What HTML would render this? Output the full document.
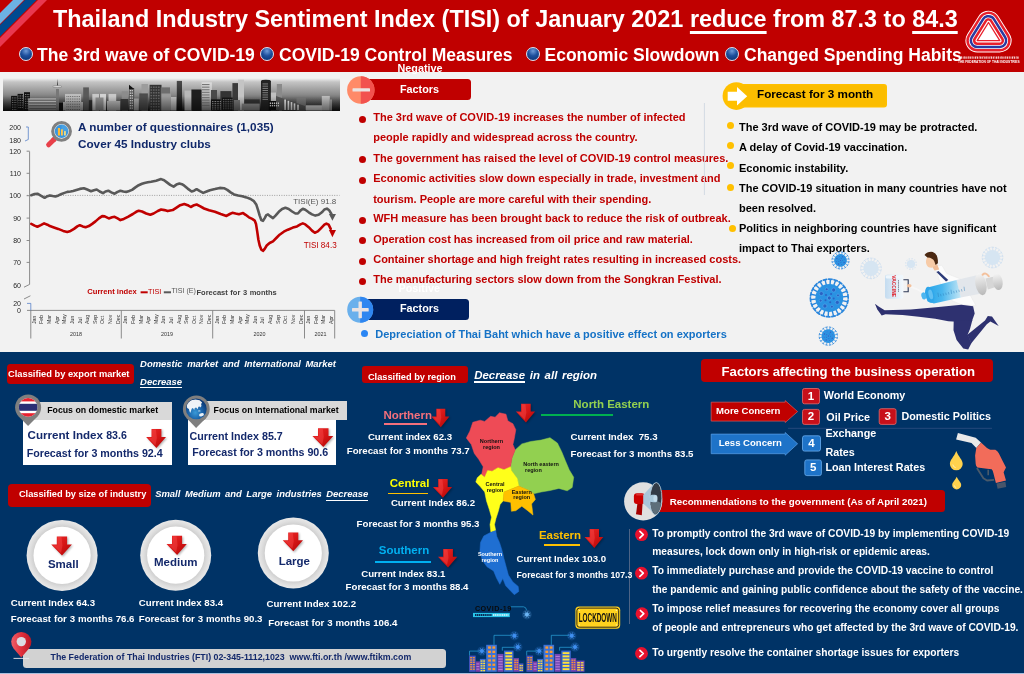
<!DOCTYPE html>
<html>
<head>
<meta charset="utf-8">
<title>TISI</title>
<style>
*{box-sizing:border-box;margin:0;padding:0}
html,body{width:1024px;height:674px;overflow:hidden;background:#f2f2f2}
body{font-family:"Liberation Sans",sans-serif;position:relative}
.t{position:absolute;white-space:nowrap;line-height:1;font-weight:bold}
.r{font-weight:normal}
.i{font-style:italic}
.w{color:#fff}
.abs{position:absolute}
svg{position:absolute;left:0;top:0;overflow:visible}
.u{border-bottom:2px solid #fff}
.dot{position:absolute;border-radius:50%}
.bd{position:absolute;width:14px;height:14px;border-radius:50%;background:radial-gradient(circle at 50% 25%,#6f9bd8 0%,#1d4f9c 45%,#0a2f6e 100%);border:1px solid #d9e2f0}
.ml{position:absolute;font-size:5.2px;line-height:1;color:#333;font-weight:normal;transform:rotate(-90deg);transform-origin:0 0;white-space:nowrap}
.yl{position:absolute;font-size:7px;line-height:1;color:#262626;font-weight:normal;text-align:right;width:16px}
</style>
</head>
<body>
<div id="wrap" style="position:absolute;left:0;top:0;width:1024px;height:674px;overflow:hidden;will-change:transform">
<!-- ===== backgrounds ===== -->
<div class="abs" style="left:0;top:0;width:1024px;height:72px;background:#c00000"></div>
<div class="abs" style="left:0;top:352px;width:1024px;height:322px;background:#003366"></div>
<!-- ===== header ===== -->
<svg width="1024" height="72" viewBox="0 0 1024 72">
  <polygon points="13,0 24,0 0,24 0,13" fill="#6cb2e4"/>
  <polygon points="25,0 36.5,0 0,36.5 0,25" fill="#004a90"/>
  <polygon points="38,0 47,0 0,47 0,38" fill="#e8384f"/>
</svg>
<div class="t w" id="title" style="left:53px;top:7.8px;font-size:23.4px">Thailand Industry Sentiment Index (TISI) of January 2021 <span style="text-decoration:underline;text-decoration-thickness:3px;text-underline-offset:3.5px">reduce</span> from 87.3 to <span style="text-decoration:underline;text-decoration-thickness:3px;text-underline-offset:3.5px">84.3</span></div>
<div class="bd" style="left:19px;top:47.4px"></div>
<div class="t w" style="left:37px;top:46.9px;font-size:17.5px">The 3rd wave of COVID-19</div>
<div class="bd" style="left:260px;top:47.4px"></div>
<div class="t w" style="left:279px;top:46.9px;font-size:17.5px">COVID-19 Control Measures</div>
<div class="bd" style="left:525.5px;top:47.4px"></div>
<div class="t w" style="left:544.5px;top:46.9px;font-size:17.5px">Economic Slowdown</div>
<div class="bd" style="left:725px;top:47.4px"></div>
<div class="t w" style="left:744px;top:46.9px;font-size:17.5px">Changed Spending Habits</div>
<!-- ===== chart ===== -->
<svg width="1024" height="674" viewBox="0 0 1024 674">
<defs><linearGradient id="sky" x1="0" y1="0" x2="0" y2="1"><stop offset="0" stop-color="#f4f4f4"/><stop offset="0.12" stop-color="#c4c4c4"/><stop offset="0.5" stop-color="#8a8a8a"/><stop offset="0.85" stop-color="#3a3a3a"/><stop offset="1" stop-color="#111"/></linearGradient>
<linearGradient id="bd" x1="0" y1="0" x2="0" y2="1"><stop offset="0" stop-color="#4a4a4a"/><stop offset="1" stop-color="#0c0c0c"/></linearGradient>
<linearGradient id="bm" x1="0" y1="0" x2="0" y2="1"><stop offset="0" stop-color="#9a9a9a"/><stop offset="1" stop-color="#3c3c3c"/></linearGradient>
<linearGradient id="bl" x1="0" y1="0" x2="0" y2="1"><stop offset="0" stop-color="#dcdcdc"/><stop offset="1" stop-color="#8c8c8c"/></linearGradient></defs>
<rect x="3" y="78" width="337" height="33" fill="url(#sky)"/>
<rect x="11.1" y="95.9" width="6.0" height="14.7" fill="#111"/>
<rect x="17.6" y="93.9" width="5.4" height="16.7" fill="#111"/>
<rect x="24" y="92.2" width="6" height="18.4" fill="#111"/>
<rect x="28.2" y="98.5" width="28.2" height="12.1" fill="url(#bl)"/>
<rect x="56" y="89" width="3" height="21.6" fill="#777"/>
<rect x="59" y="102.8" width="5.6" height="7.8" fill="#111"/>
<rect x="65" y="93.9" width="16.2" height="16.7" fill="#bdbdbd"/>
<rect x="63" y="102" width="20" height="8.6" fill="#b0b0b0"/>
<rect x="83.2" y="87.4" width="5.7" height="23.2" fill="#5a5a5a"/>
<rect x="88.9" y="100.2" width="7.7" height="10.4" fill="#2e2e2e"/>
<rect x="92.3" y="93.9" width="6.7" height="16.7" fill="#c8c8c8"/>
<rect x="100" y="93.9" width="6" height="16.7" fill="#d2d2d2"/>
<rect x="95.5" y="97.5" width="8.0" height="13.1" fill="#8f8f8f"/>
<rect x="108.5" y="93.9" width="7.7" height="16.7" fill="#c8c8c8"/>
<rect x="107" y="101" width="13.5" height="9.6" fill="#b4b4b4"/>
<rect x="121.7" y="91.3" width="6.5" height="19.3" fill="#8c8c8c"/>
<rect x="120.5" y="99" width="7.7" height="11.6" fill="#3a3a3a"/>
<rect x="129" y="88" width="5.2" height="22.6" fill="#555"/>
<rect x="134" y="98.5" width="4.8" height="12.1" fill="#a8a8a8"/>
<rect x="141.5" y="84" width="6.4" height="26.6" fill="#9c9c9c"/>
<rect x="139.3" y="93.4" width="8.6" height="17.2" fill="#4c4c4c"/>
<rect x="149.6" y="84.8" width="11.9" height="25.8" fill="#333"/>
<rect x="160.7" y="87.4" width="9.3" height="23.2" fill="#6e6e6e"/>
<rect x="161.5" y="93.5" width="9.5" height="17.1" fill="#9a9a9a"/>
<rect x="171" y="97" width="5.5" height="13.6" fill="#bbb"/>
<rect x="176.8" y="80.9" width="5.2" height="29.7" fill="url(#bd)"/>
<rect x="184.5" y="90.5" width="7.7" height="20.1" fill="#b8b8b8"/>
<rect x="191.4" y="89.5" width="13.6" height="21.1" fill="#1e1e1e"/>
<rect x="201.6" y="82.3" width="10.3" height="28.3" fill="url(#bl)"/>
<rect x="211" y="90" width="6" height="20.6" fill="#4a4a4a"/>
<rect x="211" y="99.4" width="10.3" height="11.2" fill="#111"/>
<rect x="220.4" y="91.1" width="11.1" height="19.5" fill="#333"/>
<rect x="222" y="97.6" width="12" height="13.0" fill="#151515"/>
<rect x="232.4" y="83.1" width="5.6" height="27.5" fill="#3a3a3a"/>
<rect x="238" y="79.7" width="6" height="30.9" fill="#c4c4c4"/>
<rect x="234" y="100" width="6" height="10.6" fill="#777"/>
<rect x="244.5" y="99.4" width="15.2" height="11.2" fill="#333"/>
<rect x="241.8" y="103.6" width="17.9" height="7.0" fill="#8a8a8a"/>
<rect x="261" y="81" width="9.9" height="29.6" fill="#242424"/>
<rect x="270.9" y="92.5" width="5.1" height="18.1" fill="#c0c0c0"/>
<rect x="276.8" y="84" width="5.2" height="26.6" fill="#8a8a8a"/>
<rect x="268.8" y="101" width="10.2" height="9.6" fill="#0e0e0e"/>
<rect x="296.5" y="97.6" width="9.4" height="13.0" fill="#787878"/>
<rect x="305.9" y="105.3" width="16.1" height="5.3" fill="#cfcfcf"/>
<rect x="321.8" y="95.9" width="8.0" height="14.7" fill="#bcbcbc"/>
<rect x="329.8" y="99.4" width="2.2" height="11.2" fill="#999"/>
<polygon points="57.5,78.8 58.1,86 56.9,86" fill="#444"/><ellipse cx="57.3" cy="86.6" rx="4.6" ry="1" fill="#ddd" stroke="#555" stroke-width="0.4"/>
<polygon points="129,84.8 134.2,89 129,89" fill="#111"/>
<ellipse cx="265.9" cy="81.2" rx="4.9" ry="1.4" fill="#242424"/>
<polygon points="276,96 305,106 305,110.6 276,110.6" fill="#555"/>
<rect x="284.3" y="99.5" width="1.6" height="10.5" fill="#f4f4f4"/>
<rect x="287.6" y="100.8" width="1.6" height="9.2" fill="#f4f4f4"/>
<rect x="290.7" y="102.1" width="1.6" height="7.9" fill="#f4f4f4"/>
<rect x="293.7" y="103.4" width="1.6" height="6.6" fill="#f4f4f4"/>
<rect x="297.2" y="104.7" width="1.6" height="5.3" fill="#f4f4f4"/>
<rect x="28.2" y="99.5" width="27.8" height="1.3" fill="#666"/>
<rect x="28.2" y="102.3" width="27.8" height="1.3" fill="#666"/>
<rect x="28.2" y="105.1" width="27.8" height="1.3" fill="#666"/>
<rect x="28.2" y="107.9" width="27.8" height="1.3" fill="#666"/>
<rect x="202" y="84" width="7.5" height="1.1" fill="#777"/>
<rect x="202" y="86.6" width="7.5" height="1.1" fill="#777"/>
<rect x="202" y="89.2" width="7.5" height="1.1" fill="#777"/>
<rect x="202" y="91.8" width="7.5" height="1.1" fill="#777"/>
<rect x="202" y="94.4" width="7.5" height="1.1" fill="#777"/>
<rect x="202" y="97" width="7.5" height="1.1" fill="#777"/>
<rect x="202" y="99.6" width="7.5" height="1.1" fill="#777"/>
<rect x="202" y="102.2" width="7.5" height="1.1" fill="#777"/>
<rect x="202" y="104.8" width="7.5" height="1.1" fill="#777"/>
<rect x="12.0" y="97.5" width="0.9" height="0.9" fill="#999"/>
<rect x="13.7" y="97.5" width="0.9" height="0.9" fill="#999"/>
<rect x="15.4" y="97.5" width="0.9" height="0.9" fill="#999"/>
<rect x="12.0" y="99.8" width="0.9" height="0.9" fill="#999"/>
<rect x="13.7" y="99.8" width="0.9" height="0.9" fill="#999"/>
<rect x="15.4" y="99.8" width="0.9" height="0.9" fill="#999"/>
<rect x="12.0" y="102.1" width="0.9" height="0.9" fill="#999"/>
<rect x="13.7" y="102.1" width="0.9" height="0.9" fill="#999"/>
<rect x="15.4" y="102.1" width="0.9" height="0.9" fill="#999"/>
<rect x="12.0" y="104.4" width="0.9" height="0.9" fill="#999"/>
<rect x="13.7" y="104.4" width="0.9" height="0.9" fill="#999"/>
<rect x="15.4" y="104.4" width="0.9" height="0.9" fill="#999"/>
<rect x="12.0" y="106.7" width="0.9" height="0.9" fill="#999"/>
<rect x="13.7" y="106.7" width="0.9" height="0.9" fill="#999"/>
<rect x="15.4" y="106.7" width="0.9" height="0.9" fill="#999"/>
<rect x="12.0" y="109.0" width="0.9" height="0.9" fill="#999"/>
<rect x="13.7" y="109.0" width="0.9" height="0.9" fill="#999"/>
<rect x="15.4" y="109.0" width="0.9" height="0.9" fill="#999"/>
<rect x="18.5" y="95.5" width="0.9" height="0.9" fill="#999"/>
<rect x="20.2" y="95.5" width="0.9" height="0.9" fill="#999"/>
<rect x="21.9" y="95.5" width="0.9" height="0.9" fill="#999"/>
<rect x="18.5" y="97.8" width="0.9" height="0.9" fill="#999"/>
<rect x="20.2" y="97.8" width="0.9" height="0.9" fill="#999"/>
<rect x="21.9" y="97.8" width="0.9" height="0.9" fill="#999"/>
<rect x="18.5" y="100.1" width="0.9" height="0.9" fill="#999"/>
<rect x="20.2" y="100.1" width="0.9" height="0.9" fill="#999"/>
<rect x="21.9" y="100.1" width="0.9" height="0.9" fill="#999"/>
<rect x="18.5" y="102.4" width="0.9" height="0.9" fill="#999"/>
<rect x="20.2" y="102.4" width="0.9" height="0.9" fill="#999"/>
<rect x="21.9" y="102.4" width="0.9" height="0.9" fill="#999"/>
<rect x="18.5" y="104.7" width="0.9" height="0.9" fill="#999"/>
<rect x="20.2" y="104.7" width="0.9" height="0.9" fill="#999"/>
<rect x="21.9" y="104.7" width="0.9" height="0.9" fill="#999"/>
<rect x="18.5" y="107.0" width="0.9" height="0.9" fill="#999"/>
<rect x="20.2" y="107.0" width="0.9" height="0.9" fill="#999"/>
<rect x="21.9" y="107.0" width="0.9" height="0.9" fill="#999"/>
<rect x="25.0" y="94.0" width="0.9" height="0.9" fill="#999"/>
<rect x="26.7" y="94.0" width="0.9" height="0.9" fill="#999"/>
<rect x="28.4" y="94.0" width="0.9" height="0.9" fill="#999"/>
<rect x="25.0" y="96.3" width="0.9" height="0.9" fill="#999"/>
<rect x="26.7" y="96.3" width="0.9" height="0.9" fill="#999"/>
<rect x="28.4" y="96.3" width="0.9" height="0.9" fill="#999"/>
<rect x="25.0" y="98.6" width="0.9" height="0.9" fill="#999"/>
<rect x="26.7" y="98.6" width="0.9" height="0.9" fill="#999"/>
<rect x="28.4" y="98.6" width="0.9" height="0.9" fill="#999"/>
<rect x="25.0" y="100.9" width="0.9" height="0.9" fill="#999"/>
<rect x="26.7" y="100.9" width="0.9" height="0.9" fill="#999"/>
<rect x="28.4" y="100.9" width="0.9" height="0.9" fill="#999"/>
<rect x="25.0" y="103.2" width="0.9" height="0.9" fill="#999"/>
<rect x="26.7" y="103.2" width="0.9" height="0.9" fill="#999"/>
<rect x="28.4" y="103.2" width="0.9" height="0.9" fill="#999"/>
<rect x="25.0" y="105.5" width="0.9" height="0.9" fill="#999"/>
<rect x="26.7" y="105.5" width="0.9" height="0.9" fill="#999"/>
<rect x="28.4" y="105.5" width="0.9" height="0.9" fill="#999"/>
<rect x="25.0" y="107.8" width="0.9" height="0.9" fill="#999"/>
<rect x="26.7" y="107.8" width="0.9" height="0.9" fill="#999"/>
<rect x="28.4" y="107.8" width="0.9" height="0.9" fill="#999"/>
<rect x="212.0" y="101.0" width="0.8" height="0.8" fill="#ddd"/>
<rect x="213.6" y="101.0" width="0.8" height="0.8" fill="#ddd"/>
<rect x="215.2" y="101.0" width="0.8" height="0.8" fill="#ddd"/>
<rect x="216.8" y="101.0" width="0.8" height="0.8" fill="#ddd"/>
<rect x="218.4" y="101.0" width="0.8" height="0.8" fill="#ddd"/>
<rect x="220.0" y="101.0" width="0.8" height="0.8" fill="#ddd"/>
<rect x="212.0" y="102.9" width="0.8" height="0.8" fill="#ddd"/>
<rect x="213.6" y="102.9" width="0.8" height="0.8" fill="#ddd"/>
<rect x="215.2" y="102.9" width="0.8" height="0.8" fill="#ddd"/>
<rect x="216.8" y="102.9" width="0.8" height="0.8" fill="#ddd"/>
<rect x="218.4" y="102.9" width="0.8" height="0.8" fill="#ddd"/>
<rect x="220.0" y="102.9" width="0.8" height="0.8" fill="#ddd"/>
<rect x="212.0" y="104.8" width="0.8" height="0.8" fill="#ddd"/>
<rect x="213.6" y="104.8" width="0.8" height="0.8" fill="#ddd"/>
<rect x="215.2" y="104.8" width="0.8" height="0.8" fill="#ddd"/>
<rect x="216.8" y="104.8" width="0.8" height="0.8" fill="#ddd"/>
<rect x="218.4" y="104.8" width="0.8" height="0.8" fill="#ddd"/>
<rect x="220.0" y="104.8" width="0.8" height="0.8" fill="#ddd"/>
<rect x="212.0" y="106.7" width="0.8" height="0.8" fill="#ddd"/>
<rect x="213.6" y="106.7" width="0.8" height="0.8" fill="#ddd"/>
<rect x="215.2" y="106.7" width="0.8" height="0.8" fill="#ddd"/>
<rect x="216.8" y="106.7" width="0.8" height="0.8" fill="#ddd"/>
<rect x="218.4" y="106.7" width="0.8" height="0.8" fill="#ddd"/>
<rect x="220.0" y="106.7" width="0.8" height="0.8" fill="#ddd"/>
<rect x="212.0" y="108.6" width="0.8" height="0.8" fill="#ddd"/>
<rect x="213.6" y="108.6" width="0.8" height="0.8" fill="#ddd"/>
<rect x="215.2" y="108.6" width="0.8" height="0.8" fill="#ddd"/>
<rect x="216.8" y="108.6" width="0.8" height="0.8" fill="#ddd"/>
<rect x="218.4" y="108.6" width="0.8" height="0.8" fill="#ddd"/>
<rect x="220.0" y="108.6" width="0.8" height="0.8" fill="#ddd"/>
<rect x="223.0" y="99.0" width="1" height="0.7" fill="#999"/>
<rect x="224.7" y="99.0" width="1" height="0.7" fill="#999"/>
<rect x="226.4" y="99.0" width="1" height="0.7" fill="#999"/>
<rect x="228.1" y="99.0" width="1" height="0.7" fill="#999"/>
<rect x="229.8" y="99.0" width="1" height="0.7" fill="#999"/>
<rect x="231.5" y="99.0" width="1" height="0.7" fill="#999"/>
<rect x="223.0" y="100.9" width="1" height="0.7" fill="#999"/>
<rect x="224.7" y="100.9" width="1" height="0.7" fill="#999"/>
<rect x="226.4" y="100.9" width="1" height="0.7" fill="#999"/>
<rect x="228.1" y="100.9" width="1" height="0.7" fill="#999"/>
<rect x="229.8" y="100.9" width="1" height="0.7" fill="#999"/>
<rect x="231.5" y="100.9" width="1" height="0.7" fill="#999"/>
<rect x="223.0" y="102.8" width="1" height="0.7" fill="#999"/>
<rect x="224.7" y="102.8" width="1" height="0.7" fill="#999"/>
<rect x="226.4" y="102.8" width="1" height="0.7" fill="#999"/>
<rect x="228.1" y="102.8" width="1" height="0.7" fill="#999"/>
<rect x="229.8" y="102.8" width="1" height="0.7" fill="#999"/>
<rect x="231.5" y="102.8" width="1" height="0.7" fill="#999"/>
<rect x="223.0" y="104.7" width="1" height="0.7" fill="#999"/>
<rect x="224.7" y="104.7" width="1" height="0.7" fill="#999"/>
<rect x="226.4" y="104.7" width="1" height="0.7" fill="#999"/>
<rect x="228.1" y="104.7" width="1" height="0.7" fill="#999"/>
<rect x="229.8" y="104.7" width="1" height="0.7" fill="#999"/>
<rect x="231.5" y="104.7" width="1" height="0.7" fill="#999"/>
<rect x="223.0" y="106.6" width="1" height="0.7" fill="#999"/>
<rect x="224.7" y="106.6" width="1" height="0.7" fill="#999"/>
<rect x="226.4" y="106.6" width="1" height="0.7" fill="#999"/>
<rect x="228.1" y="106.6" width="1" height="0.7" fill="#999"/>
<rect x="229.8" y="106.6" width="1" height="0.7" fill="#999"/>
<rect x="231.5" y="106.6" width="1" height="0.7" fill="#999"/>
<rect x="223.0" y="108.5" width="1" height="0.7" fill="#999"/>
<rect x="224.7" y="108.5" width="1" height="0.7" fill="#999"/>
<rect x="226.4" y="108.5" width="1" height="0.7" fill="#999"/>
<rect x="228.1" y="108.5" width="1" height="0.7" fill="#999"/>
<rect x="229.8" y="108.5" width="1" height="0.7" fill="#999"/>
<rect x="231.5" y="108.5" width="1" height="0.7" fill="#999"/>
<rect x="269.8" y="102.5" width="1.2" height="1.5" fill="#eee"/>
<rect x="271.8" y="102.5" width="1.2" height="1.5" fill="#eee"/>
<rect x="273.8" y="102.5" width="1.2" height="1.5" fill="#eee"/>
<rect x="275.8" y="102.5" width="1.2" height="1.5" fill="#eee"/>
<rect x="277.8" y="102.5" width="1.2" height="1.5" fill="#eee"/>
<rect x="269.8" y="104.9" width="1.2" height="1.5" fill="#eee"/>
<rect x="271.8" y="104.9" width="1.2" height="1.5" fill="#eee"/>
<rect x="273.8" y="104.9" width="1.2" height="1.5" fill="#eee"/>
<rect x="275.8" y="104.9" width="1.2" height="1.5" fill="#eee"/>
<rect x="277.8" y="104.9" width="1.2" height="1.5" fill="#eee"/>
<rect x="262.5" y="83.5" width="5.5" height="0.9" fill="#888"/>
<rect x="262.5" y="85.7" width="5.5" height="0.9" fill="#888"/>
<rect x="262.5" y="87.9" width="5.5" height="0.9" fill="#888"/>
<rect x="262.5" y="90.1" width="5.5" height="0.9" fill="#888"/>
<rect x="262.5" y="92.3" width="5.5" height="0.9" fill="#888"/>
<rect x="262.5" y="94.5" width="5.5" height="0.9" fill="#888"/>
<rect x="262.5" y="96.7" width="5.5" height="0.9" fill="#888"/>
<rect x="262.5" y="98.9" width="5.5" height="0.9" fill="#888"/>
<rect x="66.5" y="96.0" width="0.9" height="0.8" fill="#555"/>
<rect x="68.3" y="96.0" width="0.9" height="0.8" fill="#555"/>
<rect x="70.1" y="96.0" width="0.9" height="0.8" fill="#555"/>
<rect x="71.9" y="96.0" width="0.9" height="0.8" fill="#555"/>
<rect x="73.7" y="96.0" width="0.9" height="0.8" fill="#555"/>
<rect x="75.5" y="96.0" width="0.9" height="0.8" fill="#555"/>
<rect x="77.3" y="96.0" width="0.9" height="0.8" fill="#555"/>
<rect x="79.1" y="96.0" width="0.9" height="0.8" fill="#555"/>
<rect x="66.5" y="98.6" width="0.9" height="0.8" fill="#555"/>
<rect x="68.3" y="98.6" width="0.9" height="0.8" fill="#555"/>
<rect x="70.1" y="98.6" width="0.9" height="0.8" fill="#555"/>
<rect x="71.9" y="98.6" width="0.9" height="0.8" fill="#555"/>
<rect x="73.7" y="98.6" width="0.9" height="0.8" fill="#555"/>
<rect x="75.5" y="98.6" width="0.9" height="0.8" fill="#555"/>
<rect x="77.3" y="98.6" width="0.9" height="0.8" fill="#555"/>
<rect x="79.1" y="98.6" width="0.9" height="0.8" fill="#555"/>
<rect x="66.5" y="101.2" width="0.9" height="0.8" fill="#555"/>
<rect x="68.3" y="101.2" width="0.9" height="0.8" fill="#555"/>
<rect x="70.1" y="101.2" width="0.9" height="0.8" fill="#555"/>
<rect x="71.9" y="101.2" width="0.9" height="0.8" fill="#555"/>
<rect x="73.7" y="101.2" width="0.9" height="0.8" fill="#555"/>
<rect x="75.5" y="101.2" width="0.9" height="0.8" fill="#555"/>
<rect x="77.3" y="101.2" width="0.9" height="0.8" fill="#555"/>
<rect x="79.1" y="101.2" width="0.9" height="0.8" fill="#555"/>
<rect x="66.5" y="103.8" width="0.9" height="0.8" fill="#555"/>
<rect x="68.3" y="103.8" width="0.9" height="0.8" fill="#555"/>
<rect x="70.1" y="103.8" width="0.9" height="0.8" fill="#555"/>
<rect x="71.9" y="103.8" width="0.9" height="0.8" fill="#555"/>
<rect x="73.7" y="103.8" width="0.9" height="0.8" fill="#555"/>
<rect x="75.5" y="103.8" width="0.9" height="0.8" fill="#555"/>
<rect x="77.3" y="103.8" width="0.9" height="0.8" fill="#555"/>
<rect x="79.1" y="103.8" width="0.9" height="0.8" fill="#555"/>
<rect x="66.5" y="106.4" width="0.9" height="0.8" fill="#555"/>
<rect x="68.3" y="106.4" width="0.9" height="0.8" fill="#555"/>
<rect x="70.1" y="106.4" width="0.9" height="0.8" fill="#555"/>
<rect x="71.9" y="106.4" width="0.9" height="0.8" fill="#555"/>
<rect x="73.7" y="106.4" width="0.9" height="0.8" fill="#555"/>
<rect x="75.5" y="106.4" width="0.9" height="0.8" fill="#555"/>
<rect x="77.3" y="106.4" width="0.9" height="0.8" fill="#555"/>
<rect x="79.1" y="106.4" width="0.9" height="0.8" fill="#555"/>
<rect x="66.5" y="109.0" width="0.9" height="0.8" fill="#555"/>
<rect x="68.3" y="109.0" width="0.9" height="0.8" fill="#555"/>
<rect x="70.1" y="109.0" width="0.9" height="0.8" fill="#555"/>
<rect x="71.9" y="109.0" width="0.9" height="0.8" fill="#555"/>
<rect x="73.7" y="109.0" width="0.9" height="0.8" fill="#555"/>
<rect x="75.5" y="109.0" width="0.9" height="0.8" fill="#555"/>
<rect x="77.3" y="109.0" width="0.9" height="0.8" fill="#555"/>
<rect x="79.1" y="109.0" width="0.9" height="0.8" fill="#555"/>
<rect x="150.5" y="86.5" width="1.6" height="1.4" fill="#666"/>
<rect x="153.0" y="86.5" width="1.6" height="1.4" fill="#666"/>
<rect x="155.5" y="86.5" width="1.6" height="1.4" fill="#666"/>
<rect x="158.0" y="86.5" width="1.6" height="1.4" fill="#666"/>
<rect x="150.5" y="89.3" width="1.6" height="1.4" fill="#666"/>
<rect x="153.0" y="89.3" width="1.6" height="1.4" fill="#666"/>
<rect x="155.5" y="89.3" width="1.6" height="1.4" fill="#666"/>
<rect x="158.0" y="89.3" width="1.6" height="1.4" fill="#666"/>
<rect x="150.5" y="92.1" width="1.6" height="1.4" fill="#666"/>
<rect x="153.0" y="92.1" width="1.6" height="1.4" fill="#666"/>
<rect x="155.5" y="92.1" width="1.6" height="1.4" fill="#666"/>
<rect x="158.0" y="92.1" width="1.6" height="1.4" fill="#666"/>
<rect x="150.5" y="94.9" width="1.6" height="1.4" fill="#666"/>
<rect x="153.0" y="94.9" width="1.6" height="1.4" fill="#666"/>
<rect x="155.5" y="94.9" width="1.6" height="1.4" fill="#666"/>
<rect x="158.0" y="94.9" width="1.6" height="1.4" fill="#666"/>
<rect x="150.5" y="97.7" width="1.6" height="1.4" fill="#666"/>
<rect x="153.0" y="97.7" width="1.6" height="1.4" fill="#666"/>
<rect x="155.5" y="97.7" width="1.6" height="1.4" fill="#666"/>
<rect x="158.0" y="97.7" width="1.6" height="1.4" fill="#666"/>
<rect x="150.5" y="100.5" width="1.6" height="1.4" fill="#666"/>
<rect x="153.0" y="100.5" width="1.6" height="1.4" fill="#666"/>
<rect x="155.5" y="100.5" width="1.6" height="1.4" fill="#666"/>
<rect x="158.0" y="100.5" width="1.6" height="1.4" fill="#666"/>
<rect x="150.5" y="103.3" width="1.6" height="1.4" fill="#666"/>
<rect x="153.0" y="103.3" width="1.6" height="1.4" fill="#666"/>
<rect x="155.5" y="103.3" width="1.6" height="1.4" fill="#666"/>
<rect x="158.0" y="103.3" width="1.6" height="1.4" fill="#666"/>
<rect x="150.5" y="106.1" width="1.6" height="1.4" fill="#666"/>
<rect x="153.0" y="106.1" width="1.6" height="1.4" fill="#666"/>
<rect x="155.5" y="106.1" width="1.6" height="1.4" fill="#666"/>
<rect x="158.0" y="106.1" width="1.6" height="1.4" fill="#666"/>
<rect x="150.5" y="108.9" width="1.6" height="1.4" fill="#666"/>
<rect x="153.0" y="108.9" width="1.6" height="1.4" fill="#666"/>
<rect x="155.5" y="108.9" width="1.6" height="1.4" fill="#666"/>
<rect x="158.0" y="108.9" width="1.6" height="1.4" fill="#666"/>
<rect x="129.8" y="90.0" width="1.0" height="1.3" fill="#eee"/>
<rect x="131.7" y="90.0" width="1.0" height="1.3" fill="#eee"/>
<rect x="129.8" y="92.5" width="1.0" height="1.3" fill="#eee"/>
<rect x="131.7" y="92.5" width="1.0" height="1.3" fill="#eee"/>
<rect x="129.8" y="95.0" width="1.0" height="1.3" fill="#eee"/>
<rect x="131.7" y="95.0" width="1.0" height="1.3" fill="#eee"/>
<rect x="129.8" y="97.5" width="1.0" height="1.3" fill="#eee"/>
<rect x="131.7" y="97.5" width="1.0" height="1.3" fill="#eee"/>
<rect x="129.8" y="100.0" width="1.0" height="1.3" fill="#eee"/>
<rect x="131.7" y="100.0" width="1.0" height="1.3" fill="#eee"/>
<rect x="129.8" y="102.5" width="1.0" height="1.3" fill="#eee"/>
<rect x="131.7" y="102.5" width="1.0" height="1.3" fill="#eee"/>
<rect x="129.8" y="105.0" width="1.0" height="1.3" fill="#eee"/>
<rect x="131.7" y="105.0" width="1.0" height="1.3" fill="#eee"/>
<rect x="129.8" y="107.5" width="1.0" height="1.3" fill="#eee"/>
<rect x="131.7" y="107.5" width="1.0" height="1.3" fill="#eee"/>
<linearGradient id="skyov" x1="0" y1="0" x2="0" y2="1"><stop offset="0.55" stop-color="#000" stop-opacity="0"/><stop offset="1" stop-color="#000" stop-opacity="0.5"/></linearGradient><rect x="3" y="78" width="337" height="33" fill="url(#skyov)"/>
<g stroke="#7f7f7f" stroke-width="0.9" fill="none">
<path d="M29.6,151.5 V284.4 L24,287.2"/>
<path d="M24,299 L30.4,295.8"/>
<path d="M26.6,151.2 H29.6"/>
<path d="M26.6,173.3 H29.6"/>
<path d="M26.6,195.7 H29.6"/>
<path d="M26.6,218.1 H29.6"/>
<path d="M26.6,240.5 H29.6"/>
<path d="M26.6,262.4 H29.6"/>
<path d="M27,310.4 H334.7"/>
<path d="M30.8,310.4 V338.5"/>
<path d="M121.3,310.4 V338.5"/>
<path d="M212.7,310.4 V338.5"/>
<path d="M304.5,310.4 V338.5"/>
<path d="M334.7,310.4 V338.5"/>
</g>
<path d="M26,127 H28.3 V139.5 L25,141" stroke="#4472c4" stroke-width="0.7" fill="none"/>
<path d="M27,303.4 H30.8 V310.4" stroke="#4472c4" stroke-width="0.7" fill="none"/>
<path d="M27,195.4 H339.5" stroke="#8c8c8c" stroke-width="0.8" stroke-dasharray="1 1.4" fill="none"/>
<polyline points="31.3,195.2 34.6,194.0 37.4,193.7 40.8,195.7 44.6,197.8 47.4,196.2 49.9,195.4 52.7,196.0 55.4,196.5 58.5,195.4 61.5,194.0 64.5,192.9 67.3,191.9 70.6,191.5 73.1,191.0 76.4,189.9 79.8,188.9 83.9,188.2 87.2,189.5 91.0,191.2 93.9,190.2 96.7,189.5 99.7,191.5 103.0,193.2 105.5,191.5 108.3,190.7 111.3,192.4 114.6,193.7 117.6,191.9 120.4,190.7 123.3,191.5 126.2,191.9 129.2,191.0 132.1,189.9 135.4,187.4 138.7,185.2 142.0,183.7 144.5,182.9 147.8,182.2 151.1,181.7 156.1,180.8 161.1,179.1 164.1,180.3 166.9,182.4 170.2,184.9 173.6,186.6 176.4,184.6 179.4,183.6 181.9,184.2 184.3,185.7 187.7,188.6 191.6,191.5 194.1,190.7 196.6,189.2 199.9,191.2 203.2,192.9 206.6,191.5 209.9,190.2 214.9,189.1 219.8,187.9 224.0,188.2 227.3,189.9 230.6,192.4 234.0,194.4 238.1,195.5 242.3,196.2 246.4,197.4 250.6,199.0 253.9,201.2 256.4,204.8 258.0,209.8 259.7,215.6 261.3,220.1 263.0,220.8 264.7,218.1 266.3,215.1 268.0,214.4 270.5,216.4 273.0,218.1 275.5,215.6 278.8,211.8 282.1,209.0 285.4,207.8 288.7,209.0 292.1,211.5 295.4,213.5 297.9,213.5 300.4,210.6 302.8,208.8 305.3,209.8 308.7,212.3 312.0,214.4 315.3,215.6 318.6,214.8 321.9,212.3 324.4,209.5 326.9,208.6 329.4,210.6 331.4,214.0" fill="none" stroke="#595959" stroke-width="2.6" stroke-linejoin="round" stroke-linecap="round"/>
<polyline points="31.3,223.9 34.6,225.6 37.4,226.7 40.8,225.1 44.1,223.4 47.4,224.7 49.9,226.1 53.2,227.2 58.2,228.9 63.2,230.9 67.3,231.9 70.6,230.9 74.0,228.9 77.3,226.4 79.8,225.2 82.7,226.4 85.6,227.2 88.9,226.1 92.2,223.9 95.5,221.4 98.9,218.4 102.2,216.1 104.7,216.4 108.8,218.4 112.1,217.3 114.6,216.8 117.6,218.4 120.4,220.1 123.8,218.9 127.9,216.8 132.9,214.0 136.2,211.8 138.7,210.8 142.0,211.5 146.2,213.5 150.3,214.8 153.6,213.5 157.8,211.0 161.1,209.5 164.4,210.1 167.7,211.1 172.7,210.1 176.9,207.3 180.2,205.2 184.3,204.0 187.7,205.2 190.8,207.0 194.1,205.2 196.6,204.5 199.9,206.1 204.1,208.5 209.1,210.3 214.9,211.8 220.7,214.0 226.5,215.9 229.8,214.0 232.3,212.8 235.6,213.6 238.9,214.3 243.1,213.1 245.6,214.8 248.9,217.3 252.2,218.9 254.7,220.6 256.0,223.9 257.2,231.4 258.4,239.7 259.7,245.5 261.3,249.6 263.0,250.8 264.7,248.8 266.7,245.5 269.6,243.0 273.0,241.3 276.3,238.0 279.6,234.7 283.8,231.7 287.9,229.7 292.9,227.6 297.0,226.4 300.4,224.4 302.8,223.4 305.3,224.4 308.7,227.2 312.0,230.6 314.8,232.7 317.8,231.4 321.1,228.1 324.4,224.7 326.4,223.6 328.6,224.7 330.7,228.9" fill="none" stroke="#c00000" stroke-width="2.6" stroke-linejoin="round" stroke-linecap="round"/>
<polygon points="328.9,214 336,214 332.4,220.8" fill="#595959"/>
<polygon points="328.9,230 336,230 332.4,237.3" fill="#c00000"/>
<path d="M140.6,292.3 H147.7" stroke="#c00000" stroke-width="2"/><path d="M163.8,292.3 H171" stroke="#595959" stroke-width="2"/>
</svg>
<div class="ml" style="left:31.8px;top:324.3px">Jan</div>
<div class="ml" style="left:39.4px;top:324.3px">Feb</div>
<div class="ml" style="left:47.1px;top:324.3px">Mar</div>
<div class="ml" style="left:54.7px;top:324.3px">Apr</div>
<div class="ml" style="left:62.3px;top:324.3px">May</div>
<div class="ml" style="left:69.9px;top:324.3px">Jun</div>
<div class="ml" style="left:77.5px;top:324.3px">Jul</div>
<div class="ml" style="left:85.2px;top:324.3px">Aug</div>
<div class="ml" style="left:92.8px;top:324.3px">Sep</div>
<div class="ml" style="left:100.4px;top:324.3px">Oct</div>
<div class="ml" style="left:108.0px;top:324.3px">Nov</div>
<div class="ml" style="left:115.6px;top:324.3px">Dec</div>
<div class="ml" style="left:123.2px;top:324.3px">Jan</div>
<div class="ml" style="left:130.9px;top:324.3px">Feb</div>
<div class="ml" style="left:138.5px;top:324.3px">Mar</div>
<div class="ml" style="left:146.1px;top:324.3px">Apr</div>
<div class="ml" style="left:153.7px;top:324.3px">May</div>
<div class="ml" style="left:161.3px;top:324.3px">Jun</div>
<div class="ml" style="left:169.0px;top:324.3px">Jul</div>
<div class="ml" style="left:176.6px;top:324.3px">Aug</div>
<div class="ml" style="left:184.2px;top:324.3px">Sep</div>
<div class="ml" style="left:191.8px;top:324.3px">Oct</div>
<div class="ml" style="left:199.4px;top:324.3px">Nov</div>
<div class="ml" style="left:207.1px;top:324.3px">Dec</div>
<div class="ml" style="left:214.7px;top:324.3px">Jan</div>
<div class="ml" style="left:222.3px;top:324.3px">Feb</div>
<div class="ml" style="left:229.9px;top:324.3px">Mar</div>
<div class="ml" style="left:237.5px;top:324.3px">Apr</div>
<div class="ml" style="left:245.2px;top:324.3px">May</div>
<div class="ml" style="left:252.8px;top:324.3px">Jun</div>
<div class="ml" style="left:260.4px;top:324.3px">Jul</div>
<div class="ml" style="left:268.0px;top:324.3px">Aug</div>
<div class="ml" style="left:275.6px;top:324.3px">Sep</div>
<div class="ml" style="left:283.3px;top:324.3px">Oct</div>
<div class="ml" style="left:290.9px;top:324.3px">Nov</div>
<div class="ml" style="left:298.5px;top:324.3px">Dec</div>
<div class="ml" style="left:306.1px;top:324.3px">Jan</div>
<div class="ml" style="left:313.8px;top:324.3px">Feb</div>
<div class="ml" style="left:321.4px;top:324.3px">Mar</div>
<div class="ml" style="left:329.0px;top:324.3px">Apr</div>
<div class="yl" style="left:5px;top:123.5px">200</div>
<div class="yl" style="left:5px;top:136.5px">180</div>
<div class="yl" style="left:5px;top:147.7px">120</div>
<div class="yl" style="left:5px;top:169.8px">110</div>
<div class="yl" style="left:5px;top:192.2px">100</div>
<div class="yl" style="left:5px;top:214.6px">90</div>
<div class="yl" style="left:5px;top:237.0px">80</div>
<div class="yl" style="left:5px;top:258.9px">70</div>
<div class="yl" style="left:5px;top:281.5px">60</div>
<div class="yl" style="left:5px;top:299.9px">20</div>
<div class="yl" style="left:5px;top:307.3px">0</div>
<div class="t r" style="left:70px;top:332.2px;font-size:5.4px;color:#333">2018</div>
<div class="t r" style="left:161px;top:332.2px;font-size:5.4px;color:#333">2019</div>
<div class="t r" style="left:253.5px;top:331.5px;font-size:5.4px;color:#333">2020</div>
<div class="t r" style="left:314.5px;top:331.5px;font-size:5.4px;color:#333">2021</div>
<div class="t" style="left:78px;top:121.2px;font-size:11.73px;color:#10286a">A number of questionnaires (1,035)</div>
<div class="t" style="left:78px;top:137.8px;font-size:11.73px;color:#10286a">Cover 45 Industry clubs</div>
<div class="t r" style="left:293.2px;top:197.6px;font-size:8px;color:#595959">TISI(E) 91.8</div>
<div class="t r" style="left:303.7px;top:242px;font-size:8.15px;color:#c00000">TISI 84.3</div>
<div class="t" style="left:87.3px;top:287.5px;font-size:7.6px;color:#c00000">Current index</div>
<div class="t r" style="left:148px;top:288.4px;font-size:7.3px;color:#c00000">TISI</div>
<div class="t r" style="left:171.5px;top:288.4px;font-size:7.1px;color:#595959">TISI (E)</div>
<div class="t" style="left:196.5px;top:288.5px;font-size:7.5px;word-spacing:0.5px;color:#404040">Forecast for 3 months</div>
<!-- ===== negative / positive factors ===== -->
<div class="t w" style="left:397.5px;top:62.9px;font-size:10.8px">Negative</div>
<div class="abs" style="left:360px;top:79px;width:111px;height:21.3px;background:#c00000;border-radius:3.5px"></div>
<div class="t w" style="left:400px;top:83.5px;font-size:10.8px">Factors</div>
<div class="t" style="left:373.2px;top:112.1px;font-size:11px;color:#c00000">The 3rd wave of COVID-19 increases the number of infected</div>
<div class="dot" style="left:359px;top:115.6px;width:7.2px;height:7.2px;background:#c00000"></div>
<div class="t" style="left:373.2px;top:132.4px;font-size:11px;color:#c00000">people rapidly and widespread across the country.</div>
<div class="t" style="left:373.2px;top:152.7px;font-size:11px;color:#c00000">The government has raised the level of COVID-19 control measures.</div>
<div class="dot" style="left:359px;top:156.2px;width:7.2px;height:7.2px;background:#c00000"></div>
<div class="t" style="left:373.2px;top:173.1px;font-size:11px;color:#c00000">Economic activities slow down especially in trade, investment and</div>
<div class="dot" style="left:359px;top:176.6px;width:7.2px;height:7.2px;background:#c00000"></div>
<div class="t" style="left:373.2px;top:193.5px;font-size:11px;color:#c00000">tourism. People are more careful with their spending.</div>
<div class="t" style="left:373.2px;top:213.4px;font-size:11px;color:#c00000">WFH measure has been brought back to reduce the risk of outbreak.</div>
<div class="dot" style="left:359px;top:216.9px;width:7.2px;height:7.2px;background:#c00000"></div>
<div class="t" style="left:373.2px;top:233.7px;font-size:11px;color:#c00000">Operation cost has increased from oil price and raw material.</div>
<div class="dot" style="left:359px;top:237.2px;width:7.2px;height:7.2px;background:#c00000"></div>
<div class="t" style="left:373.2px;top:254.1px;font-size:11px;color:#c00000">Container shortage and high freight rates resulting in increased costs.</div>
<div class="dot" style="left:359px;top:257.6px;width:7.2px;height:7.2px;background:#c00000"></div>
<div class="t" style="left:373.2px;top:274.1px;font-size:11px;color:#c00000">The manufacturing sectors slow down from the Songkran Festival.</div>
<div class="dot" style="left:359px;top:277.6px;width:7.2px;height:7.2px;background:#c00000"></div>
<div class="t w" style="left:398.5px;top:283px;font-size:10.8px">Positive</div>
<div class="abs" style="left:360px;top:298.5px;width:108.5px;height:21.4px;background:#00205f;border-radius:3.5px"></div>
<div class="t w" style="left:400px;top:303px;font-size:10.8px">Factors</div>
<div class="dot" style="left:360.8px;top:329.8px;width:7.2px;height:7.2px;background:#2a86f4"></div>
<div class="t" style="left:375.3px;top:328.8px;font-size:11px;color:#1572c6">Depreciation of Thai Baht which have a positive effect on exporters</div>
<svg width="1024" height="674" viewBox="0 0 1024 674"><circle cx="360.8" cy="90" r="13.7" fill="#ff8a68"/><path d="M360.8,76.3 A13.7,13.7 0 0 1 360.8,103.7 Z" fill="#f2524e"/><rect x="352.5" y="88.3" width="17.5" height="3.2" rx="0.6" fill="#ece4e2"/>
<circle cx="360.2" cy="309.8" r="13" fill="#6ab0ec"/><path d="M360.2,296.8 A13,13 0 0 1 360.2,322.8 Z" fill="#2f86f0"/><rect x="352" y="308.1" width="16.7" height="3.4" rx="0.6" fill="#e9e3e3"/><rect x="358.5" y="301.4" width="3.4" height="16.8" rx="0.6" fill="#e9e3e3"/>
<path d="M704.4,103 V195" stroke="#d3dbe3" stroke-width="1"/></svg>
<!-- ===== forecast ===== -->
<svg width="1024" height="674" viewBox="0 0 1024 674"><rect x="730" y="84" width="157" height="23.5" rx="3" fill="#ffc000"/><circle cx="736.4" cy="96.1" r="13.8" fill="#ffc000"/><rect x="740" y="85.5" width="145.5" height="20.5" rx="2" fill="#f7ba00" opacity="0.55"/><path d="M727.7,91.7 H737 V87 L747.2,96.2 L737,105.4 V100.7 H727.7 Z" fill="#fff"/></svg>
<div class="t" style="left:757px;top:88.4px;font-size:11.7px;color:#000">Forecast for 3 month</div>
<div class="t" style="left:739px;top:122.0px;font-size:11px;color:#000">The 3rd wave of COVID-19 may be protracted.</div>
<div class="dot" style="left:726.8px;top:121.6px;width:7px;height:7px;background:#ffc000"></div>
<div class="t" style="left:739px;top:142.4px;font-size:11px;color:#000">A delay of Covid-19 vaccination.</div>
<div class="dot" style="left:726.8px;top:141.6px;width:7px;height:7px;background:#ffc000"></div>
<div class="t" style="left:739px;top:162.7px;font-size:11px;color:#000">Economic instability.</div>
<div class="dot" style="left:726.8px;top:162.4px;width:7px;height:7px;background:#ffc000"></div>
<div class="t" style="left:739px;top:183.1px;font-size:11px;color:#000">The COVID-19 situation in many countries have not</div>
<div class="dot" style="left:726.8px;top:184.0px;width:7px;height:7px;background:#ffc000"></div>
<div class="t" style="left:739px;top:203.0px;font-size:11px;color:#000">been resolved.</div>
<div class="t" style="left:739px;top:223.4px;font-size:11px;color:#000">Politics in neighboring countries have significant</div>
<div class="dot" style="left:729.2px;top:224.7px;width:7px;height:7px;background:#ffc000"></div>
<div class="t" style="left:739px;top:243.3px;font-size:11px;color:#000">impact to Thai exporters.</div>
<!-- ===== classified by export market ===== -->
<div class="abs" style="left:6.8px;top:364.2px;width:127.6px;height:20.2px;background:#c00000;border-radius:3.5px"></div>
<div class="t" style="left:8.0px;top:370.4px;font-size:9.3px;color:#fff;">Classified by export market</div>
<div class="t" style="left:140.1px;top:359.3px;font-size:9.45px;color:#fff;font-style:italic;word-spacing:2px">Domestic market and International Market</div>
<div class="t" style="left:140.1px;top:377.3px;font-size:9.45px;color:#fff;font-style:italic;border-bottom:1.3px solid #fff;padding-bottom:0.6px">Decrease</div>
<div class="abs" style="left:22.8px;top:401.6px;width:149.2px;height:18.4px;background:#d9d9d9"></div>
<div class="abs" style="left:22.8px;top:419.8px;width:149.2px;height:45.6px;background:#fff"></div>
<div class="t" style="left:47.2px;top:405.7px;font-size:8.75px;color:#000;">Focus on domestic market</div>
<div class="t" style="left:27.6px;top:429.4px;font-size:11.6px;color:#14296b;">Current Index <span style="font-size:10.6px">83.6</span></div>
<div class="t" style="left:26.7px;top:448.1px;font-size:10.7px;color:#14296b;">Forecast for 3 months 92.4</div>
<div class="abs" style="left:188px;top:400.5px;width:158.8px;height:19.6px;background:#d9d9d9"></div>
<div class="abs" style="left:188px;top:420px;width:147.5px;height:45.2px;background:#fff"></div>
<div class="t" style="left:213.6px;top:405.9px;font-size:8.75px;color:#000;">Focus on International market</div>
<div class="t" style="left:189.5px;top:430.6px;font-size:10.7px;color:#14296b;">Current Index 85.7</div>
<div class="t" style="left:192.2px;top:447.0px;font-size:10.7px;color:#14296b;">Forecast for 3 months 90.6</div>
<svg width="1024" height="674" viewBox="0 0 1024 674">
<defs><linearGradient id="ag" x1="0" y1="0" x2="1" y2="1"><stop offset="0" stop-color="#ee2a2a"/><stop offset="0.5" stop-color="#d61616"/><stop offset="1" stop-color="#b00606"/></linearGradient><filter id="sblur" x="-30%" y="-30%" width="160%" height="160%"><feGaussianBlur stdDeviation="0.8"/></filter></defs>
<path d="M151.5,429.0 H161.4 V437.0 H166.0 L156.4,448.0 L146.1,437.0 H151.5 Z" transform="translate(1.1,1.1)" fill="#000" opacity="0.3" filter="url(#sblur)"/><path d="M151.5,429.0 H161.4 V437.0 H166.0 L156.4,448.0 L146.1,437.0 H151.5 Z" fill="url(#ag)"/><path d="M152.1,429.5 H155.9 L156.9,438.0 L155.4,445.5 L148.1,437.7 H152.1 Z" fill="#ff5a5a" opacity="0.35"/>
<path d="M318.0,428.2 H328.5 V436.1 H333.3 L323.3,447.0 L312.4,436.1 H318.0 Z" transform="translate(1.1,1.1)" fill="#000" opacity="0.3" filter="url(#sblur)"/><path d="M318.0,428.2 H328.5 V436.1 H333.3 L323.3,447.0 L312.4,436.1 H318.0 Z" fill="url(#ag)"/><path d="M318.6,428.7 H322.8 L323.8,437.1 L322.3,444.5 L314.4,436.8 H318.6 Z" fill="#ff5a5a" opacity="0.35"/>
<circle cx="28.1" cy="407.4" r="13" fill="#7f7f7f"/><polygon points="18.3,416 37.9,416 28.1,426" fill="#7f7f7f"/>
<clipPath id="fc"><circle cx="28.1" cy="407.4" r="9.3"/></clipPath><g clip-path="url(#fc)"><rect x="18" y="397" width="21" height="21" fill="#fff"/><rect x="18" y="397" width="21" height="4.4" fill="#e8212f"/><rect x="18" y="413.2" width="21" height="5" fill="#e8212f"/><rect x="18" y="403.8" width="21" height="7" fill="#2a2f75"/></g>
<circle cx="196.3" cy="408.9" r="13.4" fill="#7f7f7f"/><polygon points="186.3,417.8 206.3,417.8 196.1,428" fill="#7f7f7f"/>
<radialGradient id="gg" cx="0.45" cy="0.68" r="0.62"><stop offset="0" stop-color="#3a9ad8"/><stop offset="0.55" stop-color="#1a62a8"/><stop offset="1" stop-color="#0b3a78"/></radialGradient><circle cx="196.3" cy="408.9" r="10.4" fill="url(#gg)"/>
<clipPath id="gc"><circle cx="196.3" cy="408.9" r="10.2"/></clipPath><g clip-path="url(#gc)"><polygon points="186.6,405.3 188.0,402.4 191.3,400.3 195.4,399.6 199.6,400.3 202.1,402.4 201.1,403.9 201.5,405.9 200.2,407.5 199.1,406.2 198.1,407.5 197.7,409.3 196.1,407.5 194.8,408.1 194.2,409.9 192.9,407.9 191.7,408.7 191.0,410.9 190.2,412.9 189.4,410.9 188.9,408.9 187.2,407.9" fill="#fff" opacity="0.93"/><ellipse cx="201.5" cy="414.8" rx="2.5" ry="1.6" transform="rotate(-15 201.5 414.8)" fill="#fff" opacity="0.9"/><ellipse cx="199.3" cy="410.9" rx="1.3" ry="0.7" fill="#cfe6f6" opacity="0.8"/></g>
</svg>
<!-- ===== classified by size ===== -->
<div class="abs" style="left:8.2px;top:483.7px;width:142.6px;height:23.4px;background:#c00000;border-radius:4px"></div>
<div class="t" style="left:18.9px;top:489.5px;font-size:9.25px;color:#fff;">Classified by size of industry</div>
<div class="t" style="left:155.2px;top:489.1px;font-size:9.45px;color:#fff;font-style:italic;word-spacing:1.9px">Small Medium and Large industries <span style="border-bottom:1.3px solid #fff;padding-bottom:0.6px">Decrease</span></div>
<svg width="1024" height="674" viewBox="0 0 1024 674">
<defs><radialGradient id="rg" cx="0.5" cy="0.5" r="0.5"><stop offset="0.8" stop-color="#cfcfcf"/><stop offset="0.9" stop-color="#dedede"/><stop offset="1" stop-color="#e9e9e9"/></radialGradient></defs>
<circle cx="62.1" cy="555.4" r="35.5" fill="url(#rg)"/><circle cx="62.1" cy="555.4" r="28.6" fill="#fff"/>
<circle cx="175.7" cy="555.2" r="35.5" fill="url(#rg)"/><circle cx="175.7" cy="555.2" r="28.6" fill="#fff"/>
<circle cx="293.3" cy="553" r="35.5" fill="url(#rg)"/><circle cx="293.3" cy="553" r="28.6" fill="#fff"/>
<path d="M56.8,536.4 H67.1 V544.5 H71.9 L62.0,555.6 L51.2,544.5 H56.8 Z" transform="translate(1.1,1.1)" fill="#000" opacity="0.3" filter="url(#sblur)"/><path d="M56.8,536.4 H67.1 V544.5 H71.9 L62.0,555.6 L51.2,544.5 H56.8 Z" fill="url(#ag)"/><path d="M57.4,536.9 H61.5 L62.5,545.5 L61.0,553.1 L53.2,545.2 H57.4 Z" fill="#ff5a5a" opacity="0.35"/>
<path d="M172.0,535.8 H182.1 V543.9 H186.8 L177.1,555.0 L166.5,543.9 H172.0 Z" transform="translate(1.1,1.1)" fill="#000" opacity="0.3" filter="url(#sblur)"/><path d="M172.0,535.8 H182.1 V543.9 H186.8 L177.1,555.0 L166.5,543.9 H172.0 Z" fill="url(#ag)"/><path d="M172.6,536.3 H176.6 L177.6,544.9 L176.1,552.5 L168.5,544.6 H172.6 Z" fill="#ff5a5a" opacity="0.35"/>
<path d="M288.2,532.4 H298.3 V540.3 H303.0 L293.3,551.3 L282.7,540.3 H288.2 Z" transform="translate(1.1,1.1)" fill="#000" opacity="0.3" filter="url(#sblur)"/><path d="M288.2,532.4 H298.3 V540.3 H303.0 L293.3,551.3 L282.7,540.3 H288.2 Z" fill="url(#ag)"/><path d="M288.8,532.9 H292.8 L293.8,541.3 L292.3,548.8 L284.7,541.0 H288.8 Z" fill="#ff5a5a" opacity="0.35"/>
</svg>
<div class="t" style="left:47.9px;top:558.5px;font-size:11.5px;color:#14296b;">Small</div>
<div class="t" style="left:154.0px;top:556.5px;font-size:11.5px;color:#14296b;">Medium</div>
<div class="t" style="left:278.7px;top:555.9px;font-size:11.5px;color:#14296b;">Large</div>
<div class="t" style="left:10.8px;top:597.6px;font-size:9.67px;color:#fff;">Current Index 64.3</div>
<div class="t" style="left:10.8px;top:614.0px;font-size:9.67px;color:#fff;word-spacing:0.2px">Forecast for 3 months 76.6</div>
<div class="t" style="left:138.8px;top:597.8px;font-size:9.67px;color:#fff;">Current Index 83.4</div>
<div class="t" style="left:138.8px;top:614.0px;font-size:9.67px;color:#fff;word-spacing:0.2px">Forecast for 3 months 90.3</div>
<div class="t" style="left:266.5px;top:598.9px;font-size:9.67px;color:#fff;">Current Index 102.2</div>
<div class="t" style="left:268.3px;top:617.8px;font-size:9.67px;color:#fff;word-spacing:0.2px">Forecast for 3 months 106.4</div>
<div class="abs" style="left:22.5px;top:648.6px;width:423.2px;height:19.1px;background:#d2d2d2;border-radius:3.5px"></div>
<div class="t" style="left:50.5px;top:653.0px;font-size:8.82px;color:#14296b;">The Federation of Thai Industries (FTI) 02-345-1112,1023&nbsp; www.fti.or.th /www.ftikm.com</div>
<svg width="1024" height="674" viewBox="0 0 1024 674"><defs><linearGradient id="pg" x1="0" y1="0" x2="1" y2="0"><stop offset="0" stop-color="#f0606a"/><stop offset="0.5" stop-color="#e0303c"/><stop offset="1" stop-color="#b81826"/></linearGradient></defs><path d="M21.3,657.6 L13.6,648.6 A10.1,10.1 0 1 1 29,648.6 Z" fill="url(#pg)"/><circle cx="21.3" cy="641.6" r="4.7" fill="#dcdce2"/><path d="M13.5,658.4 H29.2" stroke="#e8e8ee" stroke-width="0.9"/></svg>
<div class="abs" style="left:0;top:672.7px;width:1024px;height:1.3px;background:#a9c0de"></div>
<!-- ===== classified by region ===== -->
<div class="abs" style="left:629.1px;top:529px;width:1px;height:95px;background:#4d6486"></div>
<div class="abs" style="left:361.5px;top:366.3px;width:106.8px;height:16.7px;background:#c00000;border-radius:3px"></div>
<div class="t" style="left:367.9px;top:372.7px;font-size:9.25px;color:#fff;">Classified by region</div>
<div class="t" style="left:474.2px;top:369.9px;font-size:11.45px;color:#fff;font-style:italic;word-spacing:1.5px"><span style="border-bottom:2px solid #fff;padding-bottom:0px">Decrease</span>&nbsp;in all region</div>
<div class="t" style="left:383.4px;top:410.4px;font-size:11.5px;color:#f4707c;">Northern</div><div class="abs" style="left:383.9px;top:423.0px;width:43.4px;height:1.7px;background:#f4707c"></div>
<div class="t" style="left:367.9px;top:431.7px;font-size:9.67px;color:#fff;">Current index 62.3</div>
<div class="t" style="left:346.8px;top:446.4px;font-size:9.67px;color:#fff;">Forecast for 3 months 73.7</div>
<div class="t" style="left:389.8px;top:477.9px;font-size:11.5px;color:#ffff00;">Central</div><div class="abs" style="left:388.2px;top:492.8px;width:39.4px;height:1.7px;background:#ffc000"></div>
<div class="t" style="left:390.9px;top:497.9px;font-size:9.67px;color:#fff;">Current Index 86.2</div>
<div class="t" style="left:356.6px;top:519.3px;font-size:9.67px;color:#fff;">Forecast for 3 months 95.3</div>
<div class="t" style="left:378.8px;top:545.4px;font-size:11.5px;color:#00b0f0;">Southern</div><div class="abs" style="left:375.3px;top:561.0px;width:55.5px;height:1.7px;background:#00b0f0"></div>
<div class="t" style="left:361.2px;top:568.9px;font-size:9.67px;color:#fff;">Current Index 83.1</div>
<div class="t" style="left:345.6px;top:582.4px;font-size:9.67px;color:#fff;">Forecast for 3 months 88.4</div>
<div class="t" style="left:573.3px;top:399.4px;font-size:11.5px;color:#92d050;">North Eastern</div><div class="abs" style="left:540.5px;top:414.3px;width:72.7px;height:1.7px;background:#00b050"></div>
<div class="t" style="left:570.6px;top:432.3px;font-size:9.67px;color:#fff;">Current Index&nbsp; 75.3</div>
<div class="t" style="left:570.6px;top:448.9px;font-size:9.67px;color:#fff;">Forecast for 3 months 83.5</div>
<div class="t" style="left:538.9px;top:529.9px;font-size:11.5px;color:#ffc000;">Eastern</div><div class="abs" style="left:543.9px;top:543.9px;width:36.1px;height:1.7px;background:#ffc000"></div>
<div class="t" style="left:516.5px;top:554.2px;font-size:9.67px;color:#fff;">Current Index 103.0</div>
<div class="t" style="left:516.5px;top:570.6px;font-size:8.73px;color:#fff;">Forecast for 3 months 107.3</div>
<svg width="1024" height="674" viewBox="0 0 1024 674">
<defs><linearGradient id="ag" x1="0" y1="0" x2="1" y2="1"><stop offset="0" stop-color="#ee2a2a"/><stop offset="0.5" stop-color="#d61616"/><stop offset="1" stop-color="#b00606"/></linearGradient><filter id="sblur" x="-30%" y="-30%" width="160%" height="160%"><feGaussianBlur stdDeviation="0.8"/></filter></defs>
<g stroke-linejoin="round" stroke-width="0.5"><polygon points="515.2,449.9 521.8,443.9 530.7,441.5 541.1,440.1 550.0,437.7 557.4,443.0 561.8,451.9 565.4,460.8 569.2,469.7 573.7,477.2 572.2,487.5 567.2,490.8 558.9,488.4 550.0,490.5 541.1,492.0 533.6,493.8 529.2,490.5 518.8,486.1 517.3,478.6 511.4,470.6 510.5,466.8 512.0,457.9" fill="#92d050" stroke="#92d050"/><polygon points="472.8,422.3 480.2,420.2 484.7,421.4 490.6,416.3 495.1,417.2 499.5,412.8 506.0,414.2 507.8,420.8 512.9,423.7 515.8,429.7 514.3,438.6 512.9,444.5 515.2,449.9 512.0,457.9 510.5,466.8 504.0,469.7 498.0,467.7 492.1,471.2 487.6,470.6 484.7,477.2 481.7,474.2 483.2,466.8 478.7,459.3 474.3,453.4 471.3,444.5 466.3,438.0 469.8,431.2 471.3,426.7" fill="#ee4b56" stroke="#ee4b56"/><polygon points="484.7,477.2 487.6,470.6 492.1,471.2 498.0,467.7 504.0,469.7 510.5,466.8 511.4,470.6 517.3,478.6 518.8,486.1 511.4,489.0 504.0,492.0 503.1,500.9 500.1,504.5 498.3,511.3 495.9,518.7 494.5,524.6 495.7,530.6 490.9,532.3 490.0,524.6 491.5,517.2 489.4,509.8 486.5,500.9 484.7,492.0 480.2,486.6 475.8,481.9 477.3,477.7 481.1,474.2" fill="#ffff1a" stroke="#ffff1a"/><polygon points="504.0,492.0 511.4,489.0 518.8,486.1 529.2,490.5 533.6,493.8 535.4,499.4 531.6,503.9 533.0,515.1 527.7,510.7 521.8,506.2 515.8,510.7 511.4,511.3 510.8,502.4 503.1,500.9" fill="#ffc000" stroke="#ffc000"/><polygon points="490.9,532.3 495.7,530.6 496.8,536.5 499.5,542.4 501.9,549.9 504.0,558.8 506.0,566.2 508.4,575.1 512.9,581.9 518.2,586.4 518.8,591.4 514.3,594.7 510.2,590.5 505.7,585.8 502.8,578.6 499.8,584.3 496.5,578.0 493.6,570.9 487.0,566.8 482.3,560.2 479.9,551.3 480.5,542.4 483.8,535.9" fill="#1f6fd2" stroke="#1f6fd2"/></g>
<path d="M436.3,408.7 H445.3 V416.5 H449.4 L440.8,427.3 L431.4,416.5 H436.3 Z" transform="translate(1.1,1.1)" fill="#000" opacity="0.3" filter="url(#sblur)"/><path d="M436.3,408.7 H445.3 V416.5 H449.4 L440.8,427.3 L431.4,416.5 H436.3 Z" fill="url(#ag)"/><path d="M436.9,409.2 H440.3 L441.3,417.5 L439.8,424.8 L433.4,417.2 H436.9 Z" fill="#ff5a5a" opacity="0.35"/>
<path d="M521.1,403.7 H530.7 V411.6 H535.1 L525.9,422.4 L515.9,411.6 H521.1 Z" transform="translate(1.1,1.1)" fill="#000" opacity="0.3" filter="url(#sblur)"/><path d="M521.1,403.7 H530.7 V411.6 H535.1 L525.9,422.4 L515.9,411.6 H521.1 Z" fill="url(#ag)"/><path d="M521.7,404.2 H525.4 L526.4,412.6 L524.9,419.9 L517.9,412.3 H521.7 Z" fill="#ff5a5a" opacity="0.35"/>
<path d="M438.2,479.1 H447.7 V487.0 H452.1 L442.9,497.8 L433.0,487.0 H438.2 Z" transform="translate(1.1,1.1)" fill="#000" opacity="0.3" filter="url(#sblur)"/><path d="M438.2,479.1 H447.7 V487.0 H452.1 L442.9,497.8 L433.0,487.0 H438.2 Z" fill="url(#ag)"/><path d="M438.8,479.6 H442.4 L443.4,488.0 L441.9,495.3 L435.0,487.7 H438.8 Z" fill="#ff5a5a" opacity="0.35"/>
<path d="M443.2,548.9 H452.9 V556.8 H457.3 L448.0,567.6 L438.0,556.8 H443.2 Z" transform="translate(1.1,1.1)" fill="#000" opacity="0.3" filter="url(#sblur)"/><path d="M443.2,548.9 H452.9 V556.8 H457.3 L448.0,567.6 L438.0,556.8 H443.2 Z" fill="url(#ag)"/><path d="M443.8,549.4 H447.5 L448.5,557.8 L447.0,565.1 L440.0,557.5 H443.8 Z" fill="#ff5a5a" opacity="0.35"/>
<path d="M589.6,529.1 H599.0 V537.0 H603.3 L594.3,547.9 L584.6,537.0 H589.6 Z" transform="translate(1.1,1.1)" fill="#000" opacity="0.3" filter="url(#sblur)"/><path d="M589.6,529.1 H599.0 V537.0 H603.3 L594.3,547.9 L584.6,537.0 H589.6 Z" fill="url(#ag)"/><path d="M590.2,529.6 H593.8 L594.8,538.0 L593.3,545.4 L586.6,537.7 H590.2 Z" fill="#ff5a5a" opacity="0.35"/>
</svg>
<div class="t" style="left:461.4985163204748px;top:439.1px;width:60px;text-align:center;font-size:5.5px;line-height:5.6px;color:#111;white-space:normal">Northern<br>region</div>
<div class="t" style="left:511.053412462908px;top:462.0px;width:60px;text-align:center;font-size:5.5px;line-height:5.6px;color:#111;white-space:normal">North eastern<br>region&nbsp;&nbsp;&nbsp;&nbsp;&nbsp;&nbsp;&nbsp;&nbsp;&nbsp;&nbsp;</div>
<div class="t" style="left:465.0593471810089px;top:482.1px;width:60px;text-align:center;font-size:5.5px;line-height:5.6px;color:#111;white-space:normal">Central<br>region</div>
<div class="t" style="left:491.7655786350149px;top:489.9px;width:60px;text-align:center;font-size:5.5px;line-height:5.6px;color:#111;white-space:normal">Eastern<br>region</div>
<div class="t" style="left:460.0148367952522px;top:552.2px;width:60px;text-align:center;font-size:5.5px;line-height:5.6px;color:#fff;white-space:normal">Southern<br>region</div>
<!-- ===== factors affecting ===== -->
<div class="abs" style="left:701.4px;top:358.8px;width:291.9px;height:22.8px;background:#c00000;border-radius:4px"></div>
<div class="t" style="left:721.6px;top:365.0px;font-size:13.15px;color:#fff;">Factors affecting the business operation</div>
<svg width="1024" height="674" viewBox="0 0 1024 674">
<path d="M788,428.3 H992" stroke="#2e4f82" stroke-width="0.8"/>
<path d="M711.2,402.2 H785.2 V400.6 L797.6,411.6 L785.2,422.5 V421.1 H711.2 Z" fill="#c00000" stroke="#e05858" stroke-width="0.7"/>
<path d="M711.2,434.1 H785.2 V432.5 L797.6,443.8 L785.2,455.2 V453.7 H711.2 Z" fill="#1e73c8" stroke="#5aa0e8" stroke-width="0.7"/>
<rect x="802.5" y="388.5" width="17.0" height="15.3" rx="2" fill="#c8101a" stroke="#e86a6a" stroke-width="0.8"/>
<rect x="802.5" y="409.4" width="17.0" height="15.0" rx="2" fill="#c8101a" stroke="#e86a6a" stroke-width="0.8"/>
<rect x="879.2" y="408.7" width="16.9" height="15.7" rx="2" fill="#c8101a" stroke="#e86a6a" stroke-width="0.8"/>
<rect x="802.5" y="435.8" width="18.0" height="15.3" rx="2" fill="#1e73c8" stroke="#6aaef0" stroke-width="0.8"/>
<rect x="804.8" y="459.9" width="16.6" height="15.7" rx="2" fill="#1e73c8" stroke="#6aaef0" stroke-width="0.8"/>
<polygon points="957.9,433.1 975.7,437.8 981,442.5 976.3,447.9 971.5,443.1 956.1,439.6" fill="#e9e9e9"/>
<path d="M976.9,468.1 L983.4,478.2 L987,480.5 L994.1,479.9" stroke="#4a5a6a" stroke-width="1.8" fill="none" stroke-linejoin="round"/><path d="M988.2,469.8 V475.2" stroke="#4a5a6a" stroke-width="1.6"/>
<path d="M976.3,447.9 L981,442.5 L987,447.9 Q989.5,449.7 990.5,449.7 H995.3 Q997.6,451 998.8,453.2 L1002.4,460.4 L1006,467.5 L1003.6,472.2 L1006,480.5 L995.9,482.9 L993.5,473.4 Q992.8,470 991.7,469.3 L987,468.7 L977.5,467.5 Q975.9,466 975.7,463.9 L975.1,455.6 Z" fill="#f26c5a"/>
<polygon points="996.5,483.5 1005.4,481.7 1006.2,487.1 997.6,488.8" fill="#47556a"/>
<path d="M956.3,451.1 C958.5,456.9 962.7,460.1 962.7,463.9 A6.4,6.4 0 0 1 949.9,463.9 C949.9,460.1 954.1,456.9 956.3,451.1 Z" fill="#ffd24d"/><path d="M952.8,464.5 A3.8,3.8 0 0 0 955.7,467.7" stroke="#fff3c4" stroke-width="0.8" fill="none"/>
<path d="M956.7,476.7 C958.3,480.4 961.2,482.2 961.2,484.9 A4.5,4.5 0 0 1 952.2,484.9 C952.2,482.2 955.1,480.4 956.7,476.7 Z" fill="#ffd24d"/><path d="M954.2,485.3 A2.7,2.7 0 0 0 956.2,487.6" stroke="#fff3c4" stroke-width="0.8" fill="none"/>
</svg>
<div class="t" style="left:716.1px;top:406.0px;font-size:9.55px;color:#fff;">More Concern</div>
<div class="t" style="left:718.7px;top:438.0px;font-size:9.55px;color:#fff;">Less Concern</div>
<div class="t w" style="left:801px;top:390.7px;width:20px;text-align:center;font-size:11.5px">1</div>
<div class="t w" style="left:801px;top:411.4px;width:20px;text-align:center;font-size:11.5px">2</div>
<div class="t w" style="left:877.7px;top:411.1px;width:20px;text-align:center;font-size:11.5px">3</div>
<div class="t w" style="left:801.5px;top:438.0px;width:20px;text-align:center;font-size:11.5px">4</div>
<div class="t w" style="left:803.1px;top:462.3px;width:20px;text-align:center;font-size:11.5px">5</div>
<div class="t" style="left:823.7px;top:389.7px;font-size:10.75px;color:#fff;">World Economy</div>
<div class="t" style="left:826.3px;top:411.6px;font-size:10.75px;color:#fff;">Oil Price</div>
<div class="t" style="left:901.4px;top:410.6px;font-size:10.75px;color:#fff;">Domestic Politics</div>
<div class="t" style="left:825.4px;top:427.9px;font-size:10.75px;color:#fff;">Exchange</div>
<div class="t" style="left:825.4px;top:447.4px;font-size:10.75px;color:#fff;">Rates</div>
<div class="t" style="left:825.4px;top:462.1px;font-size:10.75px;color:#fff;">Loan Interest Rates</div>
<!-- ===== recommendations ===== -->
<div class="abs" style="left:655px;top:489.9px;width:289.7px;height:22.6px;background:#c00000;border-radius:3.5px"></div>
<div class="t" style="left:669.8px;top:497.3px;font-size:9.74px;color:#fff;">Recommendations to the government (As of April 2021)</div>
<div class="t" style="left:652.2px;top:528.5px;font-size:10.23px;color:#fff;">To promptly control the 3rd wave of COVID-19 by implementing COVID-19</div>
<div class="t" style="left:652.2px;top:547.3px;font-size:10.23px;color:#fff;">measures, lock down only in high-risk or epidemic areas.</div>
<div class="t" style="left:652.2px;top:566.1px;font-size:10.23px;color:#fff;">To immediately purchase and provide the COVID-19 vaccine to control</div>
<div class="t" style="left:652.2px;top:585.0px;font-size:10.23px;color:#fff;">the pandemic and gaining public confidence about the safety of the vaccine.</div>
<div class="t" style="left:652.2px;top:603.7px;font-size:10.23px;color:#fff;">To impose relief measures for recovering the economy cover all groups</div>
<div class="t" style="left:652.2px;top:622.6px;font-size:10.23px;color:#fff;">of people and entrepreneurs who get affected by the 3rd wave of COVID-19.</div>
<div class="t" style="left:652.2px;top:648.3px;font-size:10.23px;color:#fff;">To urgently resolve the container shortage issues for exporters</div>
<svg width="1024" height="674" viewBox="0 0 1024 674">
<circle cx="643.2" cy="501.4" r="19.1" fill="#e0e0e0"/>
<polygon points="637.4,503.6 642.5,503.6 641.8,515.2 636.0,514.2" fill="#a30000"/>
<rect x="633.9" y="493.3" width="11" height="10.7" rx="3" fill="#cc0000"/><rect x="636" y="493.9" width="8" height="1.6" rx="0.8" fill="#e23a3a" opacity="0.8"/>
<polygon points="643.2,494.9 654.4,482.9 655.1,514.5 643.2,503.4" fill="#a9c6da"/>
<ellipse cx="655.9" cy="498.6" rx="6" ry="16.1" transform="rotate(1.5 655.6 498.6)" fill="#323b47" stroke="#b9d5e8" stroke-width="0.8"/>
<path d="M655.9,500.5 L661.3,503 Q660,512 655.5,514.3 Q651.5,512 650.6,503.5 Z" fill="#5d6e7a"/>
<rect x="649.6" y="494.7" width="7.8" height="7.6" rx="2.6" fill="#a9c9dd"/><ellipse cx="655.3" cy="498.5" rx="1.9" ry="3.3" fill="#c3dcec"/>
<circle cx="641.5" cy="534.6" r="6.4" fill="#e8112d"/><path d="M639.9,531.4 L643.3,534.6 L639.9,537.8000000000001" stroke="#fff" stroke-width="1.7" fill="none" stroke-linecap="round" stroke-linejoin="round"/>
<circle cx="641.5" cy="573.2" r="6.4" fill="#e8112d"/><path d="M639.9,570.0 L643.3,573.2 L639.9,576.4000000000001" stroke="#fff" stroke-width="1.7" fill="none" stroke-linecap="round" stroke-linejoin="round"/>
<circle cx="642" cy="613.7" r="6.4" fill="#e8112d"/><path d="M640.4,610.5 L643.8,613.7 L640.4,616.9000000000001" stroke="#fff" stroke-width="1.7" fill="none" stroke-linecap="round" stroke-linejoin="round"/>
<circle cx="641.5" cy="653.5" r="6.4" fill="#e8112d"/><path d="M639.9,650.3 L643.3,653.5 L639.9,656.7" stroke="#fff" stroke-width="1.7" fill="none" stroke-linecap="round" stroke-linejoin="round"/>
</svg>
<!-- ===== graphics: logo, magnifier, viruses, man, city ===== -->
<svg width="1024" height="674" viewBox="0 0 1024 674">
<path d="M988.5,22.5 L999.8,40.6 L977.2,40.6 Z" fill="none" stroke="#fff" stroke-width="23.6" stroke-linejoin="round"/>
<path d="M988.5,22.5 L999.8,40.6 L977.2,40.6 Z" fill="none" stroke="#e8202c" stroke-width="21.8" stroke-linejoin="round"/>
<path d="M988.5,22.5 L999.8,40.6 L977.2,40.6 Z" fill="none" stroke="#fff" stroke-width="16.8" stroke-linejoin="round"/>
<path d="M988.5,22.5 L999.8,40.6 L977.2,40.6 Z" fill="none" stroke="#2a3aa0" stroke-width="15.2" stroke-linejoin="round"/>
<path d="M988.5,22.5 L999.8,40.6 L977.2,40.6 Z" fill="none" stroke="#fff" stroke-width="10.2" stroke-linejoin="round"/>
<path d="M988.5,22.5 L999.8,40.6 L977.2,40.6 Z" fill="none" stroke="#e8202c" stroke-width="8.6" stroke-linejoin="round"/>
<path d="M988.5,22.5 L999.8,40.6 L977.2,40.6 Z" fill="none" stroke="#fff" stroke-width="3.6" stroke-linejoin="round"/>
<path d="M988.5,22.5 L999.8,40.6 L977.2,40.6 Z" fill="#fff" stroke="#e8202c" stroke-width="1.3" stroke-linejoin="round"/>
<path d="M961,57.6 H1019" stroke="#fff" stroke-width="2.2" stroke-dasharray="1.1 0.7 0.8 0.6 1.4 0.7" opacity="0.8"/>
<path d="M961,56.3 H1019" stroke="#fff" stroke-width="0.5" stroke-dasharray="0.8 2.6 0.6 3.4" opacity="0.7"/>
<path d="M54,139.4 L48.6,144.8" stroke="#e8404a" stroke-width="4.9" stroke-linecap="round"/>
<path d="M55.2,138.2 L53,140.4" stroke="#e8404a" stroke-width="4.9"/>
<circle cx="61.55" cy="131.35" r="8.85" fill="#f6f6f6" stroke="#808080" stroke-width="3.1"/>
<circle cx="61.55" cy="131.35" r="6.75" fill="#3a96de"/><path d="M61.55,124.6 A6.75,6.75 0 0 1 68.3,131.35 L61.55,131.35Z" fill="#5aabe8" opacity="0.5"/>
<rect x="57.9" y="128" width="2.1" height="7.5" fill="#ffb833"/><rect x="61" y="129.3" width="1.85" height="6.2" fill="#ffc64d"/><rect x="64.1" y="131.1" width="1.7" height="4.4" fill="#ffe07a"/>
<g opacity="1"><path d="M845.9,261.5 L848.9,262.1" stroke="#2a86dc" stroke-width="0.64"/><path d="M849.0,261.3 L848.7,262.9" stroke="#2a86dc" stroke-width="0.78" stroke-linecap="round"/><path d="M845.1,263.5 L847.6,265.2" stroke="#2a86dc" stroke-width="0.64"/><path d="M848.0,264.5 L847.2,265.8" stroke="#2a86dc" stroke-width="0.78" stroke-linecap="round"/><path d="M843.5,265.0 L845.2,267.5" stroke="#2a86dc" stroke-width="0.64"/><path d="M845.9,267.1 L844.6,268.0" stroke="#2a86dc" stroke-width="0.78" stroke-linecap="round"/><path d="M841.6,265.8 L842.1,268.8" stroke="#2a86dc" stroke-width="0.64"/><path d="M842.9,268.6 L841.4,268.9" stroke="#2a86dc" stroke-width="0.78" stroke-linecap="round"/><path d="M839.4,265.8 L838.8,268.8" stroke="#2a86dc" stroke-width="0.64"/><path d="M839.6,268.9 L838.0,268.6" stroke="#2a86dc" stroke-width="0.78" stroke-linecap="round"/><path d="M837.4,265.0 L835.7,267.5" stroke="#2a86dc" stroke-width="0.64"/><path d="M836.4,267.9 L835.1,267.1" stroke="#2a86dc" stroke-width="0.78" stroke-linecap="round"/><path d="M835.9,263.4 L833.4,265.1" stroke="#2a86dc" stroke-width="0.64"/><path d="M833.8,265.8 L832.9,264.5" stroke="#2a86dc" stroke-width="0.78" stroke-linecap="round"/><path d="M835.1,261.5 L832.1,262.0" stroke="#2a86dc" stroke-width="0.64"/><path d="M832.3,262.8 L832.0,261.3" stroke="#2a86dc" stroke-width="0.78" stroke-linecap="round"/><path d="M835.1,259.3 L832.1,258.7" stroke="#2a86dc" stroke-width="0.64"/><path d="M832.0,259.5 L832.3,257.9" stroke="#2a86dc" stroke-width="0.78" stroke-linecap="round"/><path d="M835.9,257.3 L833.4,255.6" stroke="#2a86dc" stroke-width="0.64"/><path d="M833.0,256.3 L833.8,255.0" stroke="#2a86dc" stroke-width="0.78" stroke-linecap="round"/><path d="M837.5,255.8 L835.8,253.3" stroke="#2a86dc" stroke-width="0.64"/><path d="M835.1,253.7 L836.4,252.8" stroke="#2a86dc" stroke-width="0.78" stroke-linecap="round"/><path d="M839.4,255.0 L838.9,252.0" stroke="#2a86dc" stroke-width="0.64"/><path d="M838.1,252.2 L839.6,251.9" stroke="#2a86dc" stroke-width="0.78" stroke-linecap="round"/><path d="M841.6,255.0 L842.2,252.0" stroke="#2a86dc" stroke-width="0.64"/><path d="M841.4,251.9 L843.0,252.2" stroke="#2a86dc" stroke-width="0.78" stroke-linecap="round"/><path d="M843.6,255.8 L845.3,253.3" stroke="#2a86dc" stroke-width="0.64"/><path d="M844.6,252.9 L845.9,253.7" stroke="#2a86dc" stroke-width="0.78" stroke-linecap="round"/><path d="M845.1,257.4 L847.6,255.7" stroke="#2a86dc" stroke-width="0.64"/><path d="M847.2,255.0 L848.1,256.3" stroke="#2a86dc" stroke-width="0.78" stroke-linecap="round"/><path d="M845.9,259.3 L848.9,258.8" stroke="#2a86dc" stroke-width="0.64"/><path d="M848.7,258.0 L849.0,259.5" stroke="#2a86dc" stroke-width="0.78" stroke-linecap="round"/><circle cx="840.5" cy="260.4" r="6.3" fill="#2a92e2"/><circle cx="844.1" cy="262.4" r="0.92" fill="#2a62c4" stroke="#5ab2f2" stroke-width="0.23"/><circle cx="841.7" cy="264.4" r="0.64" fill="#2a62c4" stroke="#5ab2f2" stroke-width="0.23"/><circle cx="838.5" cy="264.0" r="0.92" fill="#2a62c4" stroke="#5ab2f2" stroke-width="0.23"/><circle cx="836.5" cy="261.6" r="0.64" fill="#2a62c4" stroke="#5ab2f2" stroke-width="0.23"/><circle cx="836.9" cy="258.4" r="0.92" fill="#2a62c4" stroke="#5ab2f2" stroke-width="0.23"/><circle cx="839.3" cy="256.4" r="0.64" fill="#2a62c4" stroke="#5ab2f2" stroke-width="0.23"/><circle cx="842.5" cy="256.8" r="0.92" fill="#2a62c4" stroke="#5ab2f2" stroke-width="0.23"/><circle cx="844.5" cy="259.2" r="0.64" fill="#2a62c4" stroke="#5ab2f2" stroke-width="0.23"/><circle cx="842.5" cy="260.6" r="0.46" fill="#2a62c4"/><circle cx="840.9" cy="262.4" r="0.46" fill="#2a62c4"/><circle cx="838.8" cy="261.4" r="0.46" fill="#2a62c4"/><circle cx="839.0" cy="259.1" r="0.46" fill="#2a62c4"/><circle cx="841.3" cy="258.5" r="0.46" fill="#2a62c4"/><circle cx="840.5" cy="260.4" r="0.92" fill="#2a62c4" stroke="#5ab2f2" stroke-width="0.28"/></g>
<g opacity="1"><path d="M841.2,300.4 L847.7,301.7" stroke="#2a86dc" stroke-width="1.41"/><path d="M848.1,300.0 L847.4,303.4" stroke="#2a86dc" stroke-width="1.72" stroke-linecap="round"/><path d="M840.0,303.7 L845.9,306.8" stroke="#2a86dc" stroke-width="1.41"/><path d="M846.7,305.2 L845.1,308.3" stroke="#2a86dc" stroke-width="1.72" stroke-linecap="round"/><path d="M838.0,306.4 L842.8,311.1" stroke="#2a86dc" stroke-width="1.41"/><path d="M844.0,309.9 L841.6,312.3" stroke="#2a86dc" stroke-width="1.72" stroke-linecap="round"/><path d="M835.3,308.6 L838.5,314.4" stroke="#2a86dc" stroke-width="1.41"/><path d="M840.0,313.5 L837.0,315.2" stroke="#2a86dc" stroke-width="1.72" stroke-linecap="round"/><path d="M832.0,309.8 L833.6,316.3" stroke="#2a86dc" stroke-width="1.41"/><path d="M835.2,315.9 L831.9,316.7" stroke="#2a86dc" stroke-width="1.72" stroke-linecap="round"/><path d="M828.6,310.1 L828.2,316.8" stroke="#2a86dc" stroke-width="1.41"/><path d="M829.9,316.9 L826.5,316.7" stroke="#2a86dc" stroke-width="1.72" stroke-linecap="round"/><path d="M825.2,309.4 L823.0,315.7" stroke="#2a86dc" stroke-width="1.41"/><path d="M824.6,316.3 L821.4,315.1" stroke="#2a86dc" stroke-width="1.72" stroke-linecap="round"/><path d="M822.2,307.8 L818.3,313.2" stroke="#2a86dc" stroke-width="1.41"/><path d="M819.6,314.2 L816.9,312.2" stroke="#2a86dc" stroke-width="1.72" stroke-linecap="round"/><path d="M819.7,305.4 L814.4,309.5" stroke="#2a86dc" stroke-width="1.41"/><path d="M815.5,310.8 L813.4,308.1" stroke="#2a86dc" stroke-width="1.72" stroke-linecap="round"/><path d="M818.0,302.4 L811.8,304.8" stroke="#2a86dc" stroke-width="1.41"/><path d="M812.4,306.4 L811.2,303.2" stroke="#2a86dc" stroke-width="1.72" stroke-linecap="round"/><path d="M817.2,299.0 L810.6,299.6" stroke="#2a86dc" stroke-width="1.41"/><path d="M810.7,301.3 L810.4,297.9" stroke="#2a86dc" stroke-width="1.72" stroke-linecap="round"/><path d="M817.4,295.6 L810.9,294.3" stroke="#2a86dc" stroke-width="1.41"/><path d="M810.5,296.0 L811.2,292.6" stroke="#2a86dc" stroke-width="1.72" stroke-linecap="round"/><path d="M818.6,292.3 L812.7,289.2" stroke="#2a86dc" stroke-width="1.41"/><path d="M811.9,290.8 L813.5,287.7" stroke="#2a86dc" stroke-width="1.72" stroke-linecap="round"/><path d="M820.6,289.6 L815.8,284.9" stroke="#2a86dc" stroke-width="1.41"/><path d="M814.6,286.1 L817.0,283.7" stroke="#2a86dc" stroke-width="1.72" stroke-linecap="round"/><path d="M823.3,287.4 L820.1,281.6" stroke="#2a86dc" stroke-width="1.41"/><path d="M818.6,282.5 L821.6,280.8" stroke="#2a86dc" stroke-width="1.72" stroke-linecap="round"/><path d="M826.6,286.2 L825.0,279.7" stroke="#2a86dc" stroke-width="1.41"/><path d="M823.4,280.1 L826.7,279.3" stroke="#2a86dc" stroke-width="1.72" stroke-linecap="round"/><path d="M830.0,285.9 L830.4,279.2" stroke="#2a86dc" stroke-width="1.41"/><path d="M828.7,279.1 L832.1,279.3" stroke="#2a86dc" stroke-width="1.72" stroke-linecap="round"/><path d="M833.4,286.6 L835.6,280.3" stroke="#2a86dc" stroke-width="1.41"/><path d="M834.0,279.7 L837.2,280.9" stroke="#2a86dc" stroke-width="1.72" stroke-linecap="round"/><path d="M836.4,288.2 L840.3,282.8" stroke="#2a86dc" stroke-width="1.41"/><path d="M839.0,281.8 L841.7,283.8" stroke="#2a86dc" stroke-width="1.72" stroke-linecap="round"/><path d="M838.9,290.6 L844.2,286.5" stroke="#2a86dc" stroke-width="1.41"/><path d="M843.1,285.2 L845.2,287.9" stroke="#2a86dc" stroke-width="1.72" stroke-linecap="round"/><path d="M840.6,293.6 L846.8,291.2" stroke="#2a86dc" stroke-width="1.41"/><path d="M846.2,289.6 L847.4,292.8" stroke="#2a86dc" stroke-width="1.72" stroke-linecap="round"/><path d="M841.4,297.0 L848.0,296.4" stroke="#2a86dc" stroke-width="1.41"/><path d="M847.9,294.7 L848.2,298.1" stroke="#2a86dc" stroke-width="1.72" stroke-linecap="round"/><circle cx="829.3" cy="298" r="13.9" fill="#2a92e2"/><circle cx="837.3" cy="302.4" r="2.02" fill="#2a62c4" stroke="#5ab2f2" stroke-width="0.51"/><circle cx="831.9" cy="306.7" r="1.41" fill="#2a62c4" stroke="#5ab2f2" stroke-width="0.51"/><circle cx="824.9" cy="306.0" r="2.02" fill="#2a62c4" stroke="#5ab2f2" stroke-width="0.51"/><circle cx="820.6" cy="300.6" r="1.41" fill="#2a62c4" stroke="#5ab2f2" stroke-width="0.51"/><circle cx="821.3" cy="293.6" r="2.02" fill="#2a62c4" stroke="#5ab2f2" stroke-width="0.51"/><circle cx="826.7" cy="289.3" r="1.41" fill="#2a62c4" stroke="#5ab2f2" stroke-width="0.51"/><circle cx="833.7" cy="290.0" r="2.02" fill="#2a62c4" stroke="#5ab2f2" stroke-width="0.51"/><circle cx="838.0" cy="295.4" r="1.41" fill="#2a62c4" stroke="#5ab2f2" stroke-width="0.51"/><circle cx="833.7" cy="298.4" r="1.01" fill="#2a62c4"/><circle cx="830.2" cy="302.3" r="1.01" fill="#2a62c4"/><circle cx="825.5" cy="300.2" r="1.01" fill="#2a62c4"/><circle cx="826.0" cy="295.0" r="1.01" fill="#2a62c4"/><circle cx="831.1" cy="293.9" r="1.01" fill="#2a62c4"/><circle cx="829.3" cy="298" r="2.02" fill="#2a62c4" stroke="#5ab2f2" stroke-width="0.61"/></g>
<g opacity="1"><path d="M834.1,337.3 L837.2,337.9" stroke="#2a86dc" stroke-width="0.69"/><path d="M837.4,337.1 L837.1,338.7" stroke="#2a86dc" stroke-width="0.83" stroke-linecap="round"/><path d="M833.2,339.4 L835.9,341.2" stroke="#2a86dc" stroke-width="0.69"/><path d="M836.3,340.5 L835.4,341.9" stroke="#2a86dc" stroke-width="0.83" stroke-linecap="round"/><path d="M831.5,341.0 L833.3,343.7" stroke="#2a86dc" stroke-width="0.69"/><path d="M834.0,343.2 L832.6,344.2" stroke="#2a86dc" stroke-width="0.83" stroke-linecap="round"/><path d="M829.4,341.9 L830.0,345.0" stroke="#2a86dc" stroke-width="0.69"/><path d="M830.9,344.9 L829.2,345.2" stroke="#2a86dc" stroke-width="0.83" stroke-linecap="round"/><path d="M827.1,341.9 L826.5,345.0" stroke="#2a86dc" stroke-width="0.69"/><path d="M827.3,345.2 L825.7,344.9" stroke="#2a86dc" stroke-width="0.83" stroke-linecap="round"/><path d="M825.0,341.0 L823.2,343.7" stroke="#2a86dc" stroke-width="0.69"/><path d="M823.9,344.1 L822.5,343.2" stroke="#2a86dc" stroke-width="0.83" stroke-linecap="round"/><path d="M823.4,339.3 L820.7,341.1" stroke="#2a86dc" stroke-width="0.69"/><path d="M821.2,341.8 L820.2,340.4" stroke="#2a86dc" stroke-width="0.83" stroke-linecap="round"/><path d="M822.5,337.2 L819.4,337.8" stroke="#2a86dc" stroke-width="0.69"/><path d="M819.5,338.7 L819.2,337.0" stroke="#2a86dc" stroke-width="0.83" stroke-linecap="round"/><path d="M822.5,334.9 L819.4,334.3" stroke="#2a86dc" stroke-width="0.69"/><path d="M819.2,335.1 L819.5,333.5" stroke="#2a86dc" stroke-width="0.83" stroke-linecap="round"/><path d="M823.4,332.8 L820.7,331.0" stroke="#2a86dc" stroke-width="0.69"/><path d="M820.3,331.7 L821.2,330.3" stroke="#2a86dc" stroke-width="0.83" stroke-linecap="round"/><path d="M825.1,331.2 L823.3,328.5" stroke="#2a86dc" stroke-width="0.69"/><path d="M822.6,329.0 L824.0,328.0" stroke="#2a86dc" stroke-width="0.83" stroke-linecap="round"/><path d="M827.2,330.3 L826.6,327.2" stroke="#2a86dc" stroke-width="0.69"/><path d="M825.7,327.3 L827.4,327.0" stroke="#2a86dc" stroke-width="0.83" stroke-linecap="round"/><path d="M829.5,330.3 L830.1,327.2" stroke="#2a86dc" stroke-width="0.69"/><path d="M829.3,327.0 L830.9,327.3" stroke="#2a86dc" stroke-width="0.83" stroke-linecap="round"/><path d="M831.6,331.2 L833.4,328.5" stroke="#2a86dc" stroke-width="0.69"/><path d="M832.7,328.1 L834.1,329.0" stroke="#2a86dc" stroke-width="0.83" stroke-linecap="round"/><path d="M833.2,332.9 L835.9,331.1" stroke="#2a86dc" stroke-width="0.69"/><path d="M835.4,330.4 L836.4,331.8" stroke="#2a86dc" stroke-width="0.83" stroke-linecap="round"/><path d="M834.1,335.0 L837.2,334.4" stroke="#2a86dc" stroke-width="0.69"/><path d="M837.1,333.5 L837.4,335.2" stroke="#2a86dc" stroke-width="0.83" stroke-linecap="round"/><circle cx="828.3" cy="336.1" r="6.8" fill="#2a92e2"/><circle cx="832.2" cy="338.2" r="0.98" fill="#2a62c4" stroke="#5ab2f2" stroke-width="0.25"/><circle cx="829.5" cy="340.3" r="0.69" fill="#2a62c4" stroke="#5ab2f2" stroke-width="0.25"/><circle cx="826.2" cy="340.0" r="0.98" fill="#2a62c4" stroke="#5ab2f2" stroke-width="0.25"/><circle cx="824.1" cy="337.3" r="0.69" fill="#2a62c4" stroke="#5ab2f2" stroke-width="0.25"/><circle cx="824.4" cy="334.0" r="0.98" fill="#2a62c4" stroke="#5ab2f2" stroke-width="0.25"/><circle cx="827.1" cy="331.9" r="0.69" fill="#2a62c4" stroke="#5ab2f2" stroke-width="0.25"/><circle cx="830.4" cy="332.2" r="0.98" fill="#2a62c4" stroke="#5ab2f2" stroke-width="0.25"/><circle cx="832.5" cy="334.9" r="0.69" fill="#2a62c4" stroke="#5ab2f2" stroke-width="0.25"/><circle cx="830.4" cy="336.3" r="0.49" fill="#2a62c4"/><circle cx="828.8" cy="338.2" r="0.49" fill="#2a62c4"/><circle cx="826.4" cy="337.2" r="0.49" fill="#2a62c4"/><circle cx="826.7" cy="334.7" r="0.49" fill="#2a62c4"/><circle cx="829.2" cy="334.1" r="0.49" fill="#2a62c4"/><circle cx="828.3" cy="336.1" r="0.98" fill="#2a62c4" stroke="#5ab2f2" stroke-width="0.29"/></g>
<g opacity="0.8"><path d="M877.5,269.7 L881.0,270.4" stroke="#c6dbef" stroke-width="0.77"/><path d="M881.2,269.5 L880.8,271.3" stroke="#c6dbef" stroke-width="0.94" stroke-linecap="round"/><path d="M876.6,271.8 L879.7,273.7" stroke="#c6dbef" stroke-width="0.77"/><path d="M880.2,272.9 L879.2,274.5" stroke="#c6dbef" stroke-width="0.94" stroke-linecap="round"/><path d="M875.1,273.6 L877.4,276.4" stroke="#c6dbef" stroke-width="0.77"/><path d="M878.1,275.8 L876.6,277.0" stroke="#c6dbef" stroke-width="0.94" stroke-linecap="round"/><path d="M873.1,274.7 L874.3,278.1" stroke="#c6dbef" stroke-width="0.77"/><path d="M875.1,277.8 L873.4,278.4" stroke="#c6dbef" stroke-width="0.94" stroke-linecap="round"/><path d="M870.8,275.0 L870.7,278.6" stroke="#c6dbef" stroke-width="0.77"/><path d="M871.7,278.7 L869.8,278.6" stroke="#c6dbef" stroke-width="0.94" stroke-linecap="round"/><path d="M868.6,274.5 L867.3,277.9" stroke="#c6dbef" stroke-width="0.77"/><path d="M868.1,278.3 L866.4,277.6" stroke="#c6dbef" stroke-width="0.94" stroke-linecap="round"/><path d="M866.6,273.3 L864.2,276.1" stroke="#c6dbef" stroke-width="0.77"/><path d="M864.9,276.7 L863.5,275.4" stroke="#c6dbef" stroke-width="0.94" stroke-linecap="round"/><path d="M865.2,271.6 L862.0,273.3" stroke="#c6dbef" stroke-width="0.77"/><path d="M862.5,274.1 L861.6,272.5" stroke="#c6dbef" stroke-width="0.94" stroke-linecap="round"/><path d="M864.5,269.4 L860.9,269.9" stroke="#c6dbef" stroke-width="0.77"/><path d="M861.0,270.8 L860.7,269.0" stroke="#c6dbef" stroke-width="0.94" stroke-linecap="round"/><path d="M864.5,267.1 L861.0,266.4" stroke="#c6dbef" stroke-width="0.77"/><path d="M860.8,267.3 L861.2,265.5" stroke="#c6dbef" stroke-width="0.94" stroke-linecap="round"/><path d="M865.4,265.0 L862.3,263.1" stroke="#c6dbef" stroke-width="0.77"/><path d="M861.8,263.9 L862.8,262.3" stroke="#c6dbef" stroke-width="0.94" stroke-linecap="round"/><path d="M866.9,263.2 L864.6,260.4" stroke="#c6dbef" stroke-width="0.77"/><path d="M863.9,261.0 L865.4,259.8" stroke="#c6dbef" stroke-width="0.94" stroke-linecap="round"/><path d="M868.9,262.1 L867.7,258.7" stroke="#c6dbef" stroke-width="0.77"/><path d="M866.9,259.0 L868.6,258.4" stroke="#c6dbef" stroke-width="0.94" stroke-linecap="round"/><path d="M871.2,261.8 L871.3,258.2" stroke="#c6dbef" stroke-width="0.77"/><path d="M870.3,258.1 L872.2,258.2" stroke="#c6dbef" stroke-width="0.94" stroke-linecap="round"/><path d="M873.4,262.3 L874.7,258.9" stroke="#c6dbef" stroke-width="0.77"/><path d="M873.9,258.5 L875.6,259.2" stroke="#c6dbef" stroke-width="0.94" stroke-linecap="round"/><path d="M875.4,263.5 L877.8,260.7" stroke="#c6dbef" stroke-width="0.77"/><path d="M877.1,260.1 L878.5,261.4" stroke="#c6dbef" stroke-width="0.94" stroke-linecap="round"/><path d="M876.8,265.2 L880.0,263.5" stroke="#c6dbef" stroke-width="0.77"/><path d="M879.5,262.7 L880.4,264.3" stroke="#c6dbef" stroke-width="0.94" stroke-linecap="round"/><path d="M877.5,267.4 L881.1,266.9" stroke="#c6dbef" stroke-width="0.77"/><path d="M881.0,266.0 L881.3,267.8" stroke="#c6dbef" stroke-width="0.94" stroke-linecap="round"/><circle cx="871" cy="268.4" r="7.6" fill="#cfe1f2"/></g>
<g opacity="0.8"><path d="M914.5,264.7 L916.5,265.1" stroke="#c6dbef" stroke-width="0.45"/><path d="M916.6,264.6 L916.4,265.6" stroke="#c6dbef" stroke-width="0.51" stroke-linecap="round"/><path d="M913.7,266.4 L915.2,267.7" stroke="#c6dbef" stroke-width="0.45"/><path d="M915.5,267.3 L914.8,268.1" stroke="#c6dbef" stroke-width="0.51" stroke-linecap="round"/><path d="M912.1,267.4 L912.8,269.3" stroke="#c6dbef" stroke-width="0.45"/><path d="M913.3,269.1 L912.3,269.5" stroke="#c6dbef" stroke-width="0.51" stroke-linecap="round"/><path d="M910.3,267.5 L909.9,269.5" stroke="#c6dbef" stroke-width="0.45"/><path d="M910.4,269.6 L909.4,269.4" stroke="#c6dbef" stroke-width="0.51" stroke-linecap="round"/><path d="M908.6,266.7 L907.3,268.2" stroke="#c6dbef" stroke-width="0.45"/><path d="M907.7,268.5 L906.9,267.8" stroke="#c6dbef" stroke-width="0.51" stroke-linecap="round"/><path d="M907.6,265.1 L905.7,265.8" stroke="#c6dbef" stroke-width="0.45"/><path d="M905.9,266.3 L905.5,265.3" stroke="#c6dbef" stroke-width="0.51" stroke-linecap="round"/><path d="M907.5,263.3 L905.5,262.9" stroke="#c6dbef" stroke-width="0.45"/><path d="M905.4,263.4 L905.6,262.4" stroke="#c6dbef" stroke-width="0.51" stroke-linecap="round"/><path d="M908.3,261.6 L906.8,260.3" stroke="#c6dbef" stroke-width="0.45"/><path d="M906.5,260.7 L907.2,259.9" stroke="#c6dbef" stroke-width="0.51" stroke-linecap="round"/><path d="M909.9,260.6 L909.2,258.7" stroke="#c6dbef" stroke-width="0.45"/><path d="M908.7,258.9 L909.7,258.5" stroke="#c6dbef" stroke-width="0.51" stroke-linecap="round"/><path d="M911.7,260.5 L912.1,258.5" stroke="#c6dbef" stroke-width="0.45"/><path d="M911.6,258.4 L912.6,258.6" stroke="#c6dbef" stroke-width="0.51" stroke-linecap="round"/><path d="M913.4,261.3 L914.7,259.8" stroke="#c6dbef" stroke-width="0.45"/><path d="M914.3,259.5 L915.1,260.2" stroke="#c6dbef" stroke-width="0.51" stroke-linecap="round"/><path d="M914.4,262.9 L916.3,262.2" stroke="#c6dbef" stroke-width="0.45"/><path d="M916.1,261.7 L916.5,262.7" stroke="#c6dbef" stroke-width="0.51" stroke-linecap="round"/><circle cx="911" cy="264" r="4.1" fill="#cfe1f2"/></g>
<g opacity="0.8"><path d="M999.0,258.8 L1002.5,259.5" stroke="#c6dbef" stroke-width="0.77"/><path d="M1002.7,258.6 L1002.3,260.4" stroke="#c6dbef" stroke-width="0.94" stroke-linecap="round"/><path d="M998.1,260.9 L1001.2,262.8" stroke="#c6dbef" stroke-width="0.77"/><path d="M1001.7,262.0 L1000.7,263.6" stroke="#c6dbef" stroke-width="0.94" stroke-linecap="round"/><path d="M996.6,262.7 L998.9,265.5" stroke="#c6dbef" stroke-width="0.77"/><path d="M999.6,264.9 L998.1,266.1" stroke="#c6dbef" stroke-width="0.94" stroke-linecap="round"/><path d="M994.6,263.8 L995.8,267.2" stroke="#c6dbef" stroke-width="0.77"/><path d="M996.6,266.9 L994.9,267.5" stroke="#c6dbef" stroke-width="0.94" stroke-linecap="round"/><path d="M992.3,264.1 L992.2,267.7" stroke="#c6dbef" stroke-width="0.77"/><path d="M993.2,267.8 L991.3,267.7" stroke="#c6dbef" stroke-width="0.94" stroke-linecap="round"/><path d="M990.1,263.6 L988.8,267.0" stroke="#c6dbef" stroke-width="0.77"/><path d="M989.6,267.4 L987.9,266.7" stroke="#c6dbef" stroke-width="0.94" stroke-linecap="round"/><path d="M988.1,262.4 L985.7,265.2" stroke="#c6dbef" stroke-width="0.77"/><path d="M986.4,265.8 L985.0,264.5" stroke="#c6dbef" stroke-width="0.94" stroke-linecap="round"/><path d="M986.7,260.7 L983.5,262.4" stroke="#c6dbef" stroke-width="0.77"/><path d="M984.0,263.2 L983.1,261.6" stroke="#c6dbef" stroke-width="0.94" stroke-linecap="round"/><path d="M986.0,258.5 L982.4,259.0" stroke="#c6dbef" stroke-width="0.77"/><path d="M982.5,259.9 L982.2,258.1" stroke="#c6dbef" stroke-width="0.94" stroke-linecap="round"/><path d="M986.0,256.2 L982.5,255.5" stroke="#c6dbef" stroke-width="0.77"/><path d="M982.3,256.4 L982.7,254.6" stroke="#c6dbef" stroke-width="0.94" stroke-linecap="round"/><path d="M986.9,254.1 L983.8,252.2" stroke="#c6dbef" stroke-width="0.77"/><path d="M983.3,253.0 L984.3,251.4" stroke="#c6dbef" stroke-width="0.94" stroke-linecap="round"/><path d="M988.4,252.3 L986.1,249.5" stroke="#c6dbef" stroke-width="0.77"/><path d="M985.4,250.1 L986.9,248.9" stroke="#c6dbef" stroke-width="0.94" stroke-linecap="round"/><path d="M990.4,251.2 L989.2,247.8" stroke="#c6dbef" stroke-width="0.77"/><path d="M988.4,248.1 L990.1,247.5" stroke="#c6dbef" stroke-width="0.94" stroke-linecap="round"/><path d="M992.7,250.9 L992.8,247.3" stroke="#c6dbef" stroke-width="0.77"/><path d="M991.8,247.2 L993.7,247.3" stroke="#c6dbef" stroke-width="0.94" stroke-linecap="round"/><path d="M994.9,251.4 L996.2,248.0" stroke="#c6dbef" stroke-width="0.77"/><path d="M995.4,247.6 L997.1,248.3" stroke="#c6dbef" stroke-width="0.94" stroke-linecap="round"/><path d="M996.9,252.6 L999.3,249.8" stroke="#c6dbef" stroke-width="0.77"/><path d="M998.6,249.2 L1000.0,250.5" stroke="#c6dbef" stroke-width="0.94" stroke-linecap="round"/><path d="M998.3,254.3 L1001.5,252.6" stroke="#c6dbef" stroke-width="0.77"/><path d="M1001.0,251.8 L1001.9,253.4" stroke="#c6dbef" stroke-width="0.94" stroke-linecap="round"/><path d="M999.0,256.5 L1002.6,256.0" stroke="#c6dbef" stroke-width="0.77"/><path d="M1002.5,255.1 L1002.8,256.9" stroke="#c6dbef" stroke-width="0.94" stroke-linecap="round"/><circle cx="992.5" cy="257.5" r="7.6" fill="#cfe1f2"/></g>
<defs><linearGradient id="sb" x1="0" y1="0" x2="1" y2="0"><stop offset="0" stop-color="#27a4e8"/><stop offset="0.45" stop-color="#49b6ee"/><stop offset="1" stop-color="#c4e6f5"/></linearGradient><linearGradient id="sg" x1="0" y1="0" x2="0" y2="1"><stop offset="0" stop-color="#f4f4f4"/><stop offset="1" stop-color="#b9b9b9"/></linearGradient><linearGradient id="vb" x1="0" y1="0" x2="1" y2="0"><stop offset="0" stop-color="#c4dcf0"/><stop offset="1" stop-color="#f3f8fc"/></linearGradient></defs>
<polygon points="934.9,266.5 941.8,265.2 946.7,273.5 961.4,279.3 976.0,305.7 961.4,304.7 951.6,300.5 940.1,282.5" fill="#fcfcfc" stroke="#e6e6e6" stroke-width="0.5"/>
<path d="M910.8,286.6 L938.5,298.8" stroke="#f7f7f7" stroke-width="1.8"/>
<polygon points="874.9,303.7 879.0,306.7 884.7,310.3 910.8,309.4 938.5,307.0 961.4,304.7 973.1,306.3 974.7,313.5 972.0,321.0 961.4,322.0 948.3,321.3 935.3,318.7 918.9,316.8 902.6,315.1 885.5,314.3 881.7,315.5 877.3,309.4" fill="#2e3170"/>
<polygon points="953.7,321.0 972.4,320.0 970.0,329.0 967.7,334.4 971.5,342.9 968.2,349.4 963.3,348.4 956.6,339.9 953.5,330.2" fill="#2e3170"/>
<polygon points="967.4,334.7 985.0,320.4 987.8,316.0 992.0,316.6 998.7,326.1 990.4,321.5 986.8,324.3 971.3,343.2" fill="#2e3170"/>
<polygon points="936.4,271.9 938.5,270.9 948.3,279.9 946.0,281.4" fill="#2c3a78"/>
<polygon points="931.7,265.9 937.2,264.2 939.2,269.5 934.6,270.4" fill="#f0bd98"/>
<path d="M927.4,256.4 Q925.1,261.3 926.4,264.2 Q927.4,267.8 931.7,267.8 L936.1,264.9 L935.3,256.4 Z" fill="#f7cba7"/>
<path d="M924.5,255.1 Q927.4,251.2 932.8,251.9 Q938.2,253.5 937.9,263.3 L935.6,264.9 L934.3,261.3 Q933.0,257.7 927.4,257.4 Z" fill="#4a2812"/>
<rect x="885.0" y="274.7" width="18.4" height="24.1" rx="2.2" fill="url(#vb)"/><rect x="885.7" y="275.3" width="17.1" height="3.3" rx="1.4" fill="#eef6fc"/>
<path d="M903.4,279.7 H908.2 V291.8 H903.4" stroke="#2e3a58" stroke-width="1.1" fill="none"/>
<ellipse cx="909.2" cy="285.8" rx="2.4" ry="1.7" fill="#f3c19d"/>
<text x="0" y="0" transform="translate(891.5,275.3) rotate(90)" font-family="Liberation Sans" font-weight="bold" font-size="5" fill="#e0242e" textLength="21.7" lengthAdjust="spacingAndGlyphs">VACCINE</text>
<text x="0" y="0" transform="translate(898.1,280.1) rotate(90)" font-family="Liberation Sans" font-weight="bold" font-size="2.4" fill="#3a4356" textLength="11.7" lengthAdjust="spacingAndGlyphs">COVID-19</text>
<polygon points="956.1,280.1 978.0,275.0 982.9,293.3 960.7,297.5" fill="#e2e6eb"/>
<polygon points="926.8,287.7 956.5,279.9 960.9,297.4 933.9,303.6 927.4,301.3" fill="url(#sb)"/>
<ellipse cx="929.7" cy="294.8" rx="4.4" ry="8.2" transform="rotate(-14 929.7 294.8)" fill="#2fa6ea"/>
<ellipse cx="930.7" cy="294.4" rx="2.1" ry="4.9" transform="rotate(-14 930.7 294.4)" fill="#63c0f2"/>
<ellipse cx="923.8" cy="295.9" rx="2.4" ry="3.6" transform="rotate(-14 923.8 295.9)" fill="#4db6f0"/>
<path d="M938.5,296.9 l-0.6,-4.2" stroke="#2a7ab8" stroke-width="0.45"/>
<path d="M941.1,296.3 l-0.6,-2.4" stroke="#2a7ab8" stroke-width="0.45"/>
<path d="M943.7,295.7 l-0.6,-2.4" stroke="#2a7ab8" stroke-width="0.45"/>
<path d="M946.3,295.1 l-0.6,-2.4" stroke="#2a7ab8" stroke-width="0.45"/>
<path d="M949.0,294.5 l-0.6,-2.4" stroke="#2a7ab8" stroke-width="0.45"/>
<path d="M951.6,293.9 l-0.6,-4.2" stroke="#2a7ab8" stroke-width="0.45"/>
<path d="M954.2,293.3 l-0.6,-2.4" stroke="#2a7ab8" stroke-width="0.45"/>
<path d="M956.8,292.7 l-0.6,-2.4" stroke="#2a7ab8" stroke-width="0.45"/>
<path d="M959.4,292.1 l-0.6,-2.4" stroke="#2a7ab8" stroke-width="0.45"/>
<path d="M962.0,291.5 l-0.6,-2.4" stroke="#2a7ab8" stroke-width="0.45"/>
<path d="M964.6,290.9 l-0.6,-4.2" stroke="#2a7ab8" stroke-width="0.45"/>
<ellipse cx="980.9" cy="284.2" rx="5.5" ry="11.1" transform="rotate(-12 980.9 284.2)" fill="url(#sg)"/>
<polygon points="985.5,278.6 994.3,276.6 995.9,287.1 987.8,289.4" fill="#d6d6d6"/>
<ellipse cx="997.7" cy="281.7" rx="4.9" ry="8.5" transform="rotate(-10 997.7 281.7)" fill="url(#sg)"/>
<path d="M982.6,274.7 q3,-3 6.2,1.6" stroke="#f3c19d" stroke-width="2" fill="none" stroke-linecap="round"/>
<rect x="473" y="612.9" width="36.8" height="4.2" fill="#29c4e8"/>
<path d="M475,615 H492" stroke="#0a2a55" stroke-width="1.8" stroke-dasharray="1.4 0.5"/><path d="M493,615 H508.5" stroke="#e8fbff" stroke-width="1.6" stroke-dasharray="1.3 0.5"/>
<path d="M510.6,606.8 H523.5 Q526.2,607 526.6,610.3" stroke="#2aa6dc" stroke-width="0.7" fill="none"/>
<circle cx="526.9" cy="614.6" r="4.8" fill="#6ab4f4" opacity="0.18"/><path d="M528.3,615.0 L530.4,615.7" stroke="#6ab4f4" stroke-width="0.6"/><path d="M527.6,615.9 L528.6,617.9" stroke="#6ab4f4" stroke-width="0.6"/><path d="M526.5,616.0 L525.8,618.1" stroke="#6ab4f4" stroke-width="0.6"/><path d="M525.6,615.3 L523.6,616.3" stroke="#6ab4f4" stroke-width="0.6"/><path d="M525.5,614.2 L523.4,613.5" stroke="#6ab4f4" stroke-width="0.6"/><path d="M526.2,613.3 L525.2,611.3" stroke="#6ab4f4" stroke-width="0.6"/><path d="M527.3,613.2 L528.0,611.1" stroke="#6ab4f4" stroke-width="0.6"/><path d="M528.2,613.9 L530.2,612.9" stroke="#6ab4f4" stroke-width="0.6"/><circle cx="526.9" cy="614.6" r="2.0" fill="#6ab4f4"/>
<rect x="475.8" y="661.4" width="4.2" height="10.4" fill="#7a3fa6"/><rect x="476.4" y="663.4" width="2.9" height="1.1" fill="#b57ad8"/><rect x="476.4" y="666.0" width="2.9" height="1.1" fill="#b57ad8"/><rect x="476.4" y="668.6" width="2.9" height="1.1" fill="#b57ad8"/>
<rect x="497.4" y="653.9" width="6.1" height="17.9" fill="#7048b4"/><rect x="498.3" y="655.9" width="4.3" height="1.1" fill="#b57ad8"/><rect x="498.3" y="658.5" width="4.3" height="1.1" fill="#b57ad8"/><rect x="498.3" y="661.1" width="4.3" height="1.1" fill="#b57ad8"/><rect x="498.3" y="663.7" width="4.3" height="1.1" fill="#b57ad8"/><rect x="498.3" y="666.3" width="4.3" height="1.1" fill="#b57ad8"/><rect x="498.3" y="668.9" width="4.3" height="1.1" fill="#b57ad8"/>
<rect x="469.1" y="655.6" width="6.6" height="16.2" fill="#4754c0"/><rect x="470.1" y="657.1" width="2.0" height="1.2" fill="#ff9a2a"/><rect x="472.8" y="657.1" width="2.0" height="1.2" fill="#ff9a2a"/><rect x="470.1" y="659.4" width="2.0" height="1.2" fill="#ff9a2a"/><rect x="472.8" y="659.4" width="2.0" height="1.2" fill="#ff9a2a"/><rect x="470.1" y="661.7" width="2.0" height="1.2" fill="#ff9a2a"/><rect x="472.8" y="661.7" width="2.0" height="1.2" fill="#ff9a2a"/><rect x="470.1" y="664.0" width="2.0" height="1.2" fill="#ff9a2a"/><rect x="472.8" y="664.0" width="2.0" height="1.2" fill="#ff9a2a"/><rect x="470.1" y="666.3" width="2.0" height="1.2" fill="#ff9a2a"/><rect x="472.8" y="666.3" width="2.0" height="1.2" fill="#ff9a2a"/><rect x="470.1" y="668.6" width="2.0" height="1.2" fill="#ff9a2a"/><rect x="472.8" y="668.6" width="2.0" height="1.2" fill="#ff9a2a"/>
<rect x="479.9" y="658.9" width="5.8" height="12.9" fill="#3b6ad0"/><rect x="480.6" y="660.4" width="1.9" height="1.3" fill="#ffe23a"/><rect x="483.2" y="660.4" width="1.9" height="1.3" fill="#ffe23a"/><rect x="480.6" y="662.8" width="1.9" height="1.3" fill="#ffe23a"/><rect x="483.2" y="662.8" width="1.9" height="1.3" fill="#ffe23a"/><rect x="480.6" y="665.2" width="1.9" height="1.3" fill="#ffe23a"/><rect x="483.2" y="665.2" width="1.9" height="1.3" fill="#ffe23a"/><rect x="480.6" y="667.6" width="1.9" height="1.3" fill="#ffe23a"/><rect x="483.2" y="667.6" width="1.9" height="1.3" fill="#ffe23a"/><rect x="480.6" y="670.0" width="1.9" height="1.3" fill="#ffe23a"/><rect x="483.2" y="670.0" width="1.9" height="1.3" fill="#ffe23a"/>
<rect x="486.2" y="644.8" width="10.6" height="27.0" fill="#3d74d8"/><rect x="488.1" y="646.4" width="2.8" height="2.3" fill="#ff9a2a"/><rect x="492.4" y="646.4" width="2.8" height="2.3" fill="#ff9a2a"/><rect x="488.1" y="650.7" width="2.8" height="2.3" fill="#ff9a2a"/><rect x="492.4" y="650.7" width="2.8" height="2.3" fill="#ff9a2a"/><rect x="488.1" y="655.0" width="2.8" height="2.3" fill="#ff9a2a"/><rect x="492.4" y="655.0" width="2.8" height="2.3" fill="#ff9a2a"/><rect x="488.1" y="659.3" width="2.8" height="2.3" fill="#ff9a2a"/><rect x="492.4" y="659.3" width="2.8" height="2.3" fill="#ff9a2a"/><rect x="488.1" y="663.6" width="2.8" height="2.3" fill="#ff9a2a"/><rect x="492.4" y="663.6" width="2.8" height="2.3" fill="#ff9a2a"/><rect x="488.1" y="667.9" width="2.8" height="2.3" fill="#ff9a2a"/><rect x="492.4" y="667.9" width="2.8" height="2.3" fill="#ff9a2a"/>
<rect x="504.0" y="650.6" width="9.5" height="21.2" fill="#3b6ad0"/><rect x="505.3" y="652.2" width="6.8" height="1.9" fill="#ffe23a"/><rect x="505.3" y="655.4" width="6.8" height="1.9" fill="#ffe23a"/><rect x="505.3" y="658.6" width="6.8" height="1.9" fill="#ffe23a"/><rect x="505.3" y="661.8" width="6.8" height="1.9" fill="#ffe23a"/><rect x="505.3" y="665.0" width="6.8" height="1.9" fill="#ffe23a"/><rect x="505.3" y="668.2" width="6.8" height="1.9" fill="#ffe23a"/>
<rect x="513.5" y="658.1" width="5.5" height="13.7" fill="#7048b4"/><rect x="514.3" y="659.6" width="1.6" height="1.2" fill="#ff9a2a"/><rect x="516.5" y="659.6" width="1.6" height="1.2" fill="#ff9a2a"/><rect x="514.3" y="661.9" width="1.6" height="1.2" fill="#ff9a2a"/><rect x="516.5" y="661.9" width="1.6" height="1.2" fill="#ff9a2a"/><rect x="514.3" y="664.2" width="1.6" height="1.2" fill="#ff9a2a"/><rect x="516.5" y="664.2" width="1.6" height="1.2" fill="#ff9a2a"/><rect x="514.3" y="666.5" width="1.6" height="1.2" fill="#ff9a2a"/><rect x="516.5" y="666.5" width="1.6" height="1.2" fill="#ff9a2a"/><rect x="514.3" y="668.8" width="1.6" height="1.2" fill="#ff9a2a"/><rect x="516.5" y="668.8" width="1.6" height="1.2" fill="#ff9a2a"/>
<rect x="518.9" y="663.4" width="4.5" height="8.4" fill="#4a58c2"/><rect x="519.5" y="664.9" width="1.4" height="1.3" fill="#ffe23a"/><rect x="521.4" y="664.9" width="1.4" height="1.3" fill="#ffe23a"/><rect x="519.5" y="667.3" width="1.4" height="1.3" fill="#ffe23a"/><rect x="521.4" y="667.3" width="1.4" height="1.3" fill="#ffe23a"/><rect x="519.5" y="669.7" width="1.4" height="1.3" fill="#ffe23a"/><rect x="521.4" y="669.7" width="1.4" height="1.3" fill="#ffe23a"/>
<path d="M494.0,644.8 V635.3 H511.8" stroke="#2aa6dc" stroke-width="0.7" fill="none"/>
<path d="M502.3,650.6 V647.3 H515.1" stroke="#2aa6dc" stroke-width="0.7" fill="none"/>
<path d="M469.5,655.6 V651.1 H479.6" stroke="#2aa6dc" stroke-width="0.7" fill="none"/>
<circle cx="514.4" cy="635.7" r="4.7" fill="#3f8ff0" opacity="0.18"/><path d="M515.8,636.1 L517.9,636.7" stroke="#3f8ff0" stroke-width="0.6"/><path d="M515.1,636.9 L516.1,638.9" stroke="#3f8ff0" stroke-width="0.6"/><path d="M514.0,637.0 L513.4,639.1" stroke="#3f8ff0" stroke-width="0.6"/><path d="M513.2,636.3 L511.3,637.4" stroke="#3f8ff0" stroke-width="0.6"/><path d="M513.1,635.2 L511.0,634.6" stroke="#3f8ff0" stroke-width="0.6"/><path d="M513.8,634.4 L512.8,632.5" stroke="#3f8ff0" stroke-width="0.6"/><path d="M514.9,634.3 L515.5,632.2" stroke="#3f8ff0" stroke-width="0.6"/><path d="M515.7,635.0 L517.6,634.0" stroke="#3f8ff0" stroke-width="0.6"/><circle cx="514.4" cy="635.7" r="2.0" fill="#3f8ff0"/>
<circle cx="517.8" cy="647.0" r="4.7" fill="#3f8ff0" opacity="0.18"/><path d="M519.1,647.4 L521.2,648.0" stroke="#3f8ff0" stroke-width="0.6"/><path d="M518.4,648.2 L519.4,650.1" stroke="#3f8ff0" stroke-width="0.6"/><path d="M517.3,648.3 L516.7,650.4" stroke="#3f8ff0" stroke-width="0.6"/><path d="M516.5,647.6 L514.6,648.6" stroke="#3f8ff0" stroke-width="0.6"/><path d="M516.4,646.5 L514.3,645.9" stroke="#3f8ff0" stroke-width="0.6"/><path d="M517.1,645.7 L516.1,643.8" stroke="#3f8ff0" stroke-width="0.6"/><path d="M518.2,645.6 L518.8,643.5" stroke="#3f8ff0" stroke-width="0.6"/><path d="M519.0,646.3 L521.0,645.3" stroke="#3f8ff0" stroke-width="0.6"/><circle cx="517.8" cy="647.0" r="2.0" fill="#3f8ff0"/>
<circle cx="481.9" cy="651.1" r="4.7" fill="#3f8ff0" opacity="0.18"/><path d="M483.3,651.5 L485.4,652.2" stroke="#3f8ff0" stroke-width="0.6"/><path d="M482.6,652.4 L483.6,654.3" stroke="#3f8ff0" stroke-width="0.6"/><path d="M481.5,652.5 L480.8,654.5" stroke="#3f8ff0" stroke-width="0.6"/><path d="M480.6,651.8 L478.7,652.8" stroke="#3f8ff0" stroke-width="0.6"/><path d="M480.5,650.7 L478.5,650.0" stroke="#3f8ff0" stroke-width="0.6"/><path d="M481.2,649.8 L480.2,647.9" stroke="#3f8ff0" stroke-width="0.6"/><path d="M482.3,649.7 L483.0,647.7" stroke="#3f8ff0" stroke-width="0.6"/><path d="M483.2,650.4 L485.1,649.4" stroke="#3f8ff0" stroke-width="0.6"/><circle cx="481.9" cy="651.1" r="2.0" fill="#3f8ff0"/>
<rect x="533.0" y="661.4" width="4.2" height="10.4" fill="#7a3fa6"/><rect x="533.7" y="663.4" width="2.9" height="1.1" fill="#b57ad8"/><rect x="533.7" y="666.0" width="2.9" height="1.1" fill="#b57ad8"/><rect x="533.7" y="668.6" width="2.9" height="1.1" fill="#b57ad8"/>
<rect x="554.6" y="653.9" width="6.1" height="17.9" fill="#7048b4"/><rect x="555.5" y="655.9" width="4.3" height="1.1" fill="#b57ad8"/><rect x="555.5" y="658.5" width="4.3" height="1.1" fill="#b57ad8"/><rect x="555.5" y="661.1" width="4.3" height="1.1" fill="#b57ad8"/><rect x="555.5" y="663.7" width="4.3" height="1.1" fill="#b57ad8"/><rect x="555.5" y="666.3" width="4.3" height="1.1" fill="#b57ad8"/><rect x="555.5" y="668.9" width="4.3" height="1.1" fill="#b57ad8"/>
<rect x="526.4" y="655.6" width="6.6" height="16.2" fill="#4754c0"/><rect x="527.4" y="657.1" width="2.0" height="1.2" fill="#ff9a2a"/><rect x="530.1" y="657.1" width="2.0" height="1.2" fill="#ff9a2a"/><rect x="527.4" y="659.4" width="2.0" height="1.2" fill="#ff9a2a"/><rect x="530.1" y="659.4" width="2.0" height="1.2" fill="#ff9a2a"/><rect x="527.4" y="661.7" width="2.0" height="1.2" fill="#ff9a2a"/><rect x="530.1" y="661.7" width="2.0" height="1.2" fill="#ff9a2a"/><rect x="527.4" y="664.0" width="2.0" height="1.2" fill="#ff9a2a"/><rect x="530.1" y="664.0" width="2.0" height="1.2" fill="#ff9a2a"/><rect x="527.4" y="666.3" width="2.0" height="1.2" fill="#ff9a2a"/><rect x="530.1" y="666.3" width="2.0" height="1.2" fill="#ff9a2a"/><rect x="527.4" y="668.6" width="2.0" height="1.2" fill="#ff9a2a"/><rect x="530.1" y="668.6" width="2.0" height="1.2" fill="#ff9a2a"/>
<rect x="537.2" y="658.9" width="5.8" height="12.9" fill="#3b6ad0"/><rect x="537.9" y="660.4" width="1.9" height="1.3" fill="#ffe23a"/><rect x="540.4" y="660.4" width="1.9" height="1.3" fill="#ffe23a"/><rect x="537.9" y="662.8" width="1.9" height="1.3" fill="#ffe23a"/><rect x="540.4" y="662.8" width="1.9" height="1.3" fill="#ffe23a"/><rect x="537.9" y="665.2" width="1.9" height="1.3" fill="#ffe23a"/><rect x="540.4" y="665.2" width="1.9" height="1.3" fill="#ffe23a"/><rect x="537.9" y="667.6" width="1.9" height="1.3" fill="#ffe23a"/><rect x="540.4" y="667.6" width="1.9" height="1.3" fill="#ffe23a"/><rect x="537.9" y="670.0" width="1.9" height="1.3" fill="#ffe23a"/><rect x="540.4" y="670.0" width="1.9" height="1.3" fill="#ffe23a"/>
<rect x="543.5" y="644.8" width="10.6" height="27.0" fill="#3d74d8"/><rect x="545.4" y="646.4" width="2.8" height="2.3" fill="#ff9a2a"/><rect x="549.7" y="646.4" width="2.8" height="2.3" fill="#ff9a2a"/><rect x="545.4" y="650.7" width="2.8" height="2.3" fill="#ff9a2a"/><rect x="549.7" y="650.7" width="2.8" height="2.3" fill="#ff9a2a"/><rect x="545.4" y="655.0" width="2.8" height="2.3" fill="#ff9a2a"/><rect x="549.7" y="655.0" width="2.8" height="2.3" fill="#ff9a2a"/><rect x="545.4" y="659.3" width="2.8" height="2.3" fill="#ff9a2a"/><rect x="549.7" y="659.3" width="2.8" height="2.3" fill="#ff9a2a"/><rect x="545.4" y="663.6" width="2.8" height="2.3" fill="#ff9a2a"/><rect x="549.7" y="663.6" width="2.8" height="2.3" fill="#ff9a2a"/><rect x="545.4" y="667.9" width="2.8" height="2.3" fill="#ff9a2a"/><rect x="549.7" y="667.9" width="2.8" height="2.3" fill="#ff9a2a"/>
<rect x="561.3" y="650.6" width="9.5" height="21.2" fill="#3b6ad0"/><rect x="562.6" y="652.2" width="6.8" height="1.9" fill="#ffe23a"/><rect x="562.6" y="655.4" width="6.8" height="1.9" fill="#ffe23a"/><rect x="562.6" y="658.6" width="6.8" height="1.9" fill="#ffe23a"/><rect x="562.6" y="661.8" width="6.8" height="1.9" fill="#ffe23a"/><rect x="562.6" y="665.0" width="6.8" height="1.9" fill="#ffe23a"/><rect x="562.6" y="668.2" width="6.8" height="1.9" fill="#ffe23a"/>
<rect x="570.7" y="658.1" width="5.5" height="13.7" fill="#7048b4"/><rect x="571.5" y="659.6" width="1.6" height="1.2" fill="#ff9a2a"/><rect x="573.7" y="659.6" width="1.6" height="1.2" fill="#ff9a2a"/><rect x="571.5" y="661.9" width="1.6" height="1.2" fill="#ff9a2a"/><rect x="573.7" y="661.9" width="1.6" height="1.2" fill="#ff9a2a"/><rect x="571.5" y="664.2" width="1.6" height="1.2" fill="#ff9a2a"/><rect x="573.7" y="664.2" width="1.6" height="1.2" fill="#ff9a2a"/><rect x="571.5" y="666.5" width="1.6" height="1.2" fill="#ff9a2a"/><rect x="573.7" y="666.5" width="1.6" height="1.2" fill="#ff9a2a"/><rect x="571.5" y="668.8" width="1.6" height="1.2" fill="#ff9a2a"/><rect x="573.7" y="668.8" width="1.6" height="1.2" fill="#ff9a2a"/>
<rect x="576.2" y="660.6" width="8.3" height="11.2" fill="#6a48b4"/><rect x="577.2" y="662.1" width="2.7" height="1.3" fill="#ffe23a"/><rect x="580.8" y="662.1" width="2.7" height="1.3" fill="#ffe23a"/><rect x="577.2" y="664.5" width="2.7" height="1.3" fill="#ffe23a"/><rect x="580.8" y="664.5" width="2.7" height="1.3" fill="#ffe23a"/><rect x="577.2" y="666.9" width="2.7" height="1.3" fill="#ffe23a"/><rect x="580.8" y="666.9" width="2.7" height="1.3" fill="#ffe23a"/><rect x="577.2" y="669.3" width="2.7" height="1.3" fill="#ffe23a"/><rect x="580.8" y="669.3" width="2.7" height="1.3" fill="#ffe23a"/>
<path d="M551.3,644.8 V635.3 H569.1" stroke="#2aa6dc" stroke-width="0.7" fill="none"/>
<path d="M559.6,650.6 V647.3 H572.4" stroke="#2aa6dc" stroke-width="0.7" fill="none"/>
<path d="M526.7,655.6 V651.1 H536.9" stroke="#2aa6dc" stroke-width="0.7" fill="none"/>
<circle cx="571.7" cy="635.7" r="4.7" fill="#3f8ff0" opacity="0.18"/><path d="M573.1,636.1 L575.2,636.7" stroke="#3f8ff0" stroke-width="0.6"/><path d="M572.4,636.9 L573.4,638.9" stroke="#3f8ff0" stroke-width="0.6"/><path d="M571.3,637.0 L570.7,639.1" stroke="#3f8ff0" stroke-width="0.6"/><path d="M570.4,636.3 L568.5,637.4" stroke="#3f8ff0" stroke-width="0.6"/><path d="M570.3,635.2 L568.3,634.6" stroke="#3f8ff0" stroke-width="0.6"/><path d="M571.0,634.4 L570.0,632.5" stroke="#3f8ff0" stroke-width="0.6"/><path d="M572.1,634.3 L572.8,632.2" stroke="#3f8ff0" stroke-width="0.6"/><path d="M573.0,635.0 L574.9,634.0" stroke="#3f8ff0" stroke-width="0.6"/><circle cx="571.7" cy="635.7" r="2.0" fill="#3f8ff0"/>
<circle cx="575.0" cy="647.0" r="4.7" fill="#3f8ff0" opacity="0.18"/><path d="M576.4,647.4 L578.5,648.0" stroke="#3f8ff0" stroke-width="0.6"/><path d="M575.7,648.2 L576.7,650.1" stroke="#3f8ff0" stroke-width="0.6"/><path d="M574.6,648.3 L574.0,650.4" stroke="#3f8ff0" stroke-width="0.6"/><path d="M573.8,647.6 L571.9,648.6" stroke="#3f8ff0" stroke-width="0.6"/><path d="M573.7,646.5 L571.6,645.9" stroke="#3f8ff0" stroke-width="0.6"/><path d="M574.4,645.7 L573.4,643.8" stroke="#3f8ff0" stroke-width="0.6"/><path d="M575.5,645.6 L576.1,643.5" stroke="#3f8ff0" stroke-width="0.6"/><path d="M576.3,646.3 L578.2,645.3" stroke="#3f8ff0" stroke-width="0.6"/><circle cx="575.0" cy="647.0" r="2.0" fill="#3f8ff0"/>
<circle cx="539.2" cy="651.1" r="4.7" fill="#3f8ff0" opacity="0.18"/><path d="M540.6,651.5 L542.6,652.2" stroke="#3f8ff0" stroke-width="0.6"/><path d="M539.9,652.4 L540.9,654.3" stroke="#3f8ff0" stroke-width="0.6"/><path d="M538.8,652.5 L538.1,654.5" stroke="#3f8ff0" stroke-width="0.6"/><path d="M537.9,651.8 L536.0,652.8" stroke="#3f8ff0" stroke-width="0.6"/><path d="M537.8,650.7 L535.7,650.0" stroke="#3f8ff0" stroke-width="0.6"/><path d="M538.5,649.8 L537.5,647.9" stroke="#3f8ff0" stroke-width="0.6"/><path d="M539.6,649.7 L540.2,647.7" stroke="#3f8ff0" stroke-width="0.6"/><path d="M540.5,650.4 L542.4,649.4" stroke="#3f8ff0" stroke-width="0.6"/><circle cx="539.2" cy="651.1" r="2.0" fill="#3f8ff0"/>
<rect x="575.4" y="606.6" width="44.8" height="22.1" rx="3.6" fill="#ffd21e"/><rect x="576.9" y="608.1" width="41.8" height="19.1" rx="2.6" fill="none" stroke="#1a1a1a" stroke-width="0.9"/>
<circle cx="579.3" cy="610.4" r="0.55" fill="#fff6c0"/><circle cx="616.3" cy="610.4" r="0.55" fill="#fff6c0"/><circle cx="579.3" cy="624.9" r="0.55" fill="#fff6c0"/><circle cx="616.3" cy="624.9" r="0.55" fill="#fff6c0"/>
<text x="578.7" y="622" font-family="Liberation Sans" font-weight="bold" font-size="12.2" fill="#111" textLength="38.2" lengthAdjust="spacingAndGlyphs">LOCKDOWN</text>
</svg>
<div class="t w" style="left:958px;top:61.2px;font-size:3.2px">THE FEDERATION OF THAI INDUSTRIES</div>
<div class="t" style="left:474.9px;top:604.6px;font-size:7.2px;color:#0a0a0a;letter-spacing:0.45px">COVID-19</div>
</div>
</body>
</html>
